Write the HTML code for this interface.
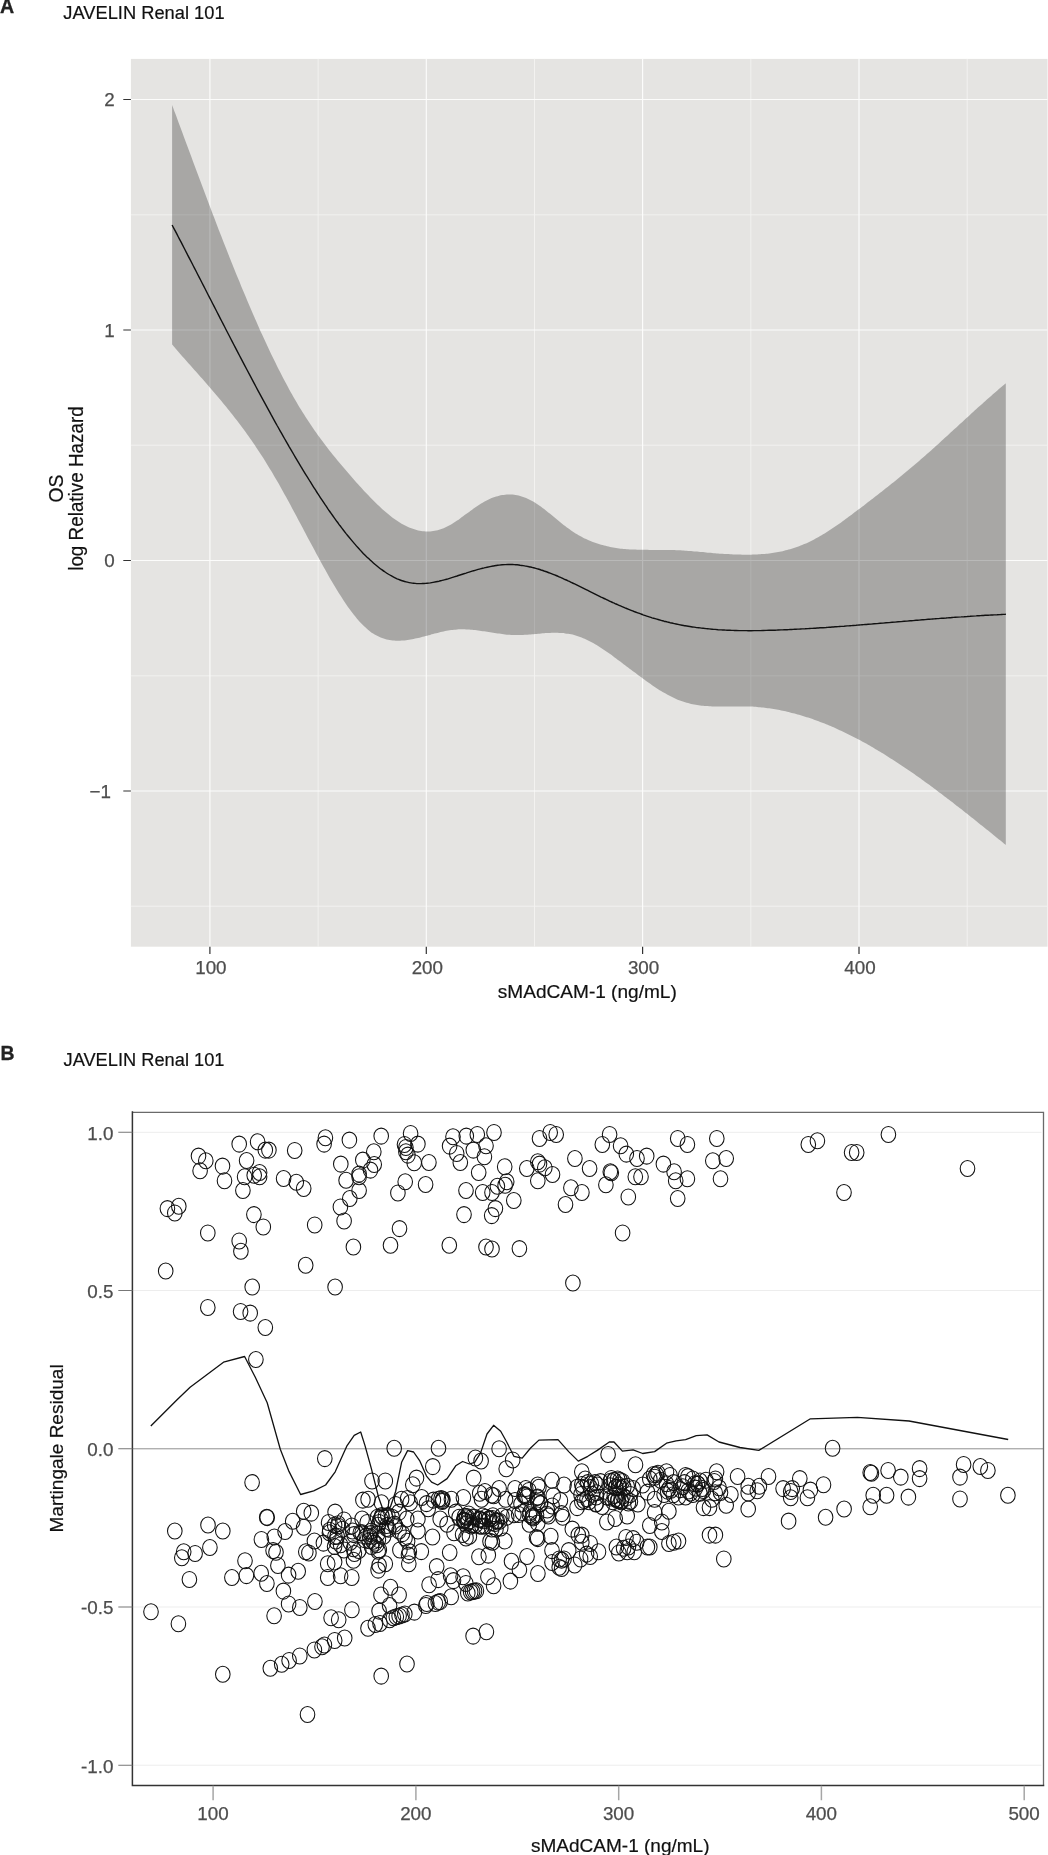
<!DOCTYPE html>
<html lang="en"><head><meta charset="utf-8"><title>JAVELIN Renal 101 - sMAdCAM-1</title>
<style>
html,body{margin:0;padding:0;background:#fff}
body{width:1048px;height:1855px;overflow:hidden}
svg{display:block;will-change:transform}
svg text{font-family:'Liberation Sans',Arial,Helvetica,sans-serif}
</style></head><body>
<svg width="1048" height="1855" viewBox="0 0 1048 1855">
<rect width="1048" height="1855" fill="#fff"/>
<rect x="130.9" y="58.9" width="916.6" height="887.8" fill="#e5e4e2"/>
<path d="M318.1,58.9V946.7M534.5,58.9V946.7M750.8,58.9V946.7M967.2,58.9V946.7M130.9,214.8H1047.5M130.9,445.2H1047.5M130.9,675.8H1047.5M130.9,906.2H1047.5" stroke="#f4f3f2" stroke-width="0.9" fill="none"/>
<path d="M209.9,58.9V946.7M426.3,58.9V946.7M642.6,58.9V946.7M859.0,58.9V946.7M130.9,99.5H1047.5M130.9,330.0H1047.5M130.9,560.5H1047.5M130.9,791.0H1047.5" stroke="#fcfcfb" stroke-width="1.15" fill="none"/>
<path d="M172.1,105.0C172.6,106.3 174.1,110.4 175.1,113.1C176.1,115.8 177.1,118.5 178.1,121.2C179.1,123.9 180.1,126.6 181.1,129.3C182.1,132.0 183.1,134.7 184.1,137.4C185.1,140.1 186.1,142.8 187.1,145.5C188.1,148.2 189.1,150.9 190.1,153.6C191.1,156.3 192.1,159.0 193.1,161.7C194.1,164.4 195.1,167.1 196.1,169.8C197.1,172.5 198.1,175.2 199.1,177.8C200.1,180.5 201.1,183.2 202.1,185.8C203.1,188.5 204.1,191.2 205.1,193.8C206.1,196.5 207.1,199.1 208.1,201.8C209.1,204.4 210.1,207.1 211.1,209.7C212.1,212.3 213.1,215.0 214.1,217.6C215.1,220.2 216.1,222.8 217.1,225.4C218.1,228.0 219.1,230.6 220.1,233.2C221.1,235.8 222.1,238.3 223.1,240.9C224.1,243.5 225.1,246.0 226.1,248.6C227.1,251.1 228.1,253.6 229.1,256.2C230.1,258.7 231.1,261.2 232.1,263.7C233.1,266.2 234.1,268.7 235.1,271.2C236.1,273.6 237.1,276.1 238.1,278.6C239.1,281.0 240.1,283.4 241.1,285.9C242.1,288.3 243.1,290.7 244.1,293.1C245.1,295.5 246.1,297.9 247.1,300.3C248.1,302.6 249.1,305.0 250.1,307.3C251.1,309.7 252.1,312.0 253.1,314.3C254.1,316.6 255.1,318.9 256.1,321.1C257.1,323.4 258.1,325.7 259.1,327.9C260.1,330.2 261.1,332.4 262.1,334.6C263.1,336.8 264.1,339.0 265.1,341.1C266.1,343.3 267.1,345.4 268.1,347.6C269.1,349.7 270.1,351.8 271.1,353.9C272.1,356.0 273.1,358.0 274.1,360.1C275.1,362.1 276.1,364.2 277.1,366.2C278.1,368.2 279.1,370.2 280.1,372.1C281.1,374.1 282.1,376.0 283.1,377.9C284.1,379.8 285.1,381.7 286.1,383.6C287.1,385.5 288.1,387.3 289.1,389.2C290.1,391.0 291.1,392.8 292.1,394.5C293.1,396.3 294.1,398.1 295.1,399.8C296.1,401.5 297.1,403.2 298.1,404.9C299.1,406.6 300.1,408.2 301.1,409.8C302.1,411.5 303.1,413.1 304.1,414.6C305.1,416.2 306.1,417.8 307.1,419.3C308.1,420.8 309.1,422.3 310.1,423.8C311.1,425.3 312.1,426.8 313.1,428.2C314.1,429.7 315.1,431.1 316.1,432.5C317.1,434.0 318.1,435.4 319.1,436.7C320.1,438.1 321.1,439.5 322.1,440.8C323.1,442.2 324.1,443.5 325.1,444.8C326.1,446.1 327.1,447.4 328.1,448.7C329.1,450.0 330.1,451.3 331.1,452.5C332.1,453.8 333.1,455.0 334.1,456.3C335.1,457.5 336.1,458.7 337.1,460.0C338.1,461.2 339.1,462.4 340.1,463.6C341.1,464.8 342.1,465.9 343.1,467.1C344.1,468.3 345.1,469.5 346.1,470.6C347.1,471.8 348.1,472.9 349.1,474.1C350.1,475.2 351.1,476.4 352.1,477.5C353.1,478.7 354.1,479.8 355.1,480.9C356.1,482.0 357.1,483.2 358.1,484.3C359.1,485.4 360.1,486.5 361.1,487.6C362.1,488.7 363.1,489.8 364.1,490.9C365.1,491.9 366.1,493.0 367.1,494.1C368.1,495.1 369.1,496.2 370.1,497.2C371.1,498.2 372.1,499.3 373.1,500.3C374.1,501.3 375.1,502.3 376.1,503.2C377.1,504.2 378.1,505.2 379.1,506.1C380.1,507.0 381.1,508.0 382.1,508.9C383.1,509.8 384.1,510.6 385.1,511.5C386.1,512.4 387.1,513.2 388.1,514.0C389.1,514.8 390.1,515.6 391.1,516.4C392.1,517.2 393.1,517.9 394.1,518.7C395.1,519.4 396.1,520.1 397.1,520.7C398.1,521.4 399.1,522.1 400.1,522.7C401.1,523.3 402.1,523.9 403.1,524.4C404.1,525.0 405.1,525.5 406.1,526.0C407.1,526.5 408.1,527.0 409.1,527.4C410.1,527.8 411.1,528.2 412.1,528.6C413.1,529.0 414.1,529.3 415.1,529.6C416.1,529.9 417.1,530.1 418.1,530.4C419.1,530.6 420.1,530.8 421.1,531.0C422.1,531.1 423.1,531.2 424.1,531.3C425.1,531.4 426.1,531.5 427.1,531.5C428.1,531.5 429.1,531.5 430.1,531.4C431.1,531.3 432.1,531.2 433.1,531.1C434.1,531.0 435.1,530.8 436.1,530.6C437.1,530.4 438.1,530.1 439.1,529.8C440.1,529.5 441.1,529.2 442.1,528.8C443.1,528.4 444.1,528.0 445.1,527.5C446.1,527.1 447.1,526.6 448.1,526.0C449.1,525.5 450.1,524.9 451.1,524.4C452.1,523.8 453.1,523.1 454.1,522.5C455.1,521.9 456.1,521.2 457.1,520.5C458.1,519.9 459.1,519.2 460.1,518.4C461.1,517.7 462.1,517.0 463.1,516.3C464.1,515.6 465.1,514.8 466.1,514.1C467.1,513.4 468.1,512.6 469.1,511.9C470.1,511.2 471.1,510.4 472.1,509.7C473.1,509.0 474.1,508.3 475.1,507.6C476.1,506.9 477.1,506.2 478.1,505.5C479.1,504.9 480.1,504.2 481.1,503.6C482.1,503.0 483.1,502.4 484.1,501.8C485.1,501.2 486.1,500.7 487.1,500.2C488.1,499.7 489.1,499.2 490.1,498.8C491.1,498.3 492.1,497.9 493.1,497.5C494.1,497.2 495.1,496.8 496.1,496.5C497.1,496.2 498.1,496.0 499.1,495.7C500.1,495.5 501.1,495.3 502.1,495.1C503.1,494.9 504.1,494.8 505.1,494.7C506.1,494.6 507.1,494.6 508.1,494.5C509.1,494.5 510.1,494.5 511.1,494.6C512.1,494.6 513.1,494.7 514.1,494.8C515.1,494.9 516.1,495.1 517.1,495.3C518.1,495.5 519.1,495.7 520.1,495.9C521.1,496.2 522.1,496.5 523.1,496.9C524.1,497.2 525.1,497.6 526.1,498.0C527.1,498.4 528.1,498.9 529.1,499.4C530.1,499.9 531.1,500.4 532.1,501.0C533.1,501.5 534.1,502.1 535.1,502.8C536.1,503.4 537.1,504.0 538.1,504.7C539.1,505.4 540.1,506.1 541.1,506.8C542.1,507.6 543.1,508.3 544.1,509.1C545.1,509.9 546.1,510.6 547.1,511.4C548.1,512.2 549.1,513.0 550.1,513.8C551.1,514.7 552.1,515.5 553.1,516.3C554.1,517.1 555.1,518.0 556.1,518.8C557.1,519.6 558.1,520.4 559.1,521.2C560.1,522.1 561.1,522.9 562.1,523.7C563.1,524.5 564.1,525.3 565.1,526.0C566.1,526.8 567.1,527.6 568.1,528.3C569.1,529.0 570.1,529.8 571.1,530.5C572.1,531.2 573.1,531.8 574.1,532.5C575.1,533.1 576.1,533.7 577.1,534.3C578.1,534.9 579.1,535.5 580.1,536.1C581.1,536.6 582.1,537.2 583.1,537.7C584.1,538.2 585.1,538.7 586.1,539.1C587.1,539.6 588.1,540.1 589.1,540.5C590.1,540.9 591.1,541.3 592.1,541.7C593.1,542.1 594.1,542.5 595.1,542.8C596.1,543.2 597.1,543.5 598.1,543.8C599.1,544.2 600.1,544.5 601.1,544.8C602.1,545.0 603.1,545.3 604.1,545.6C605.1,545.8 606.1,546.1 607.1,546.3C608.1,546.5 609.1,546.7 610.1,546.9C611.1,547.1 612.1,547.3 613.1,547.5C614.1,547.6 615.1,547.8 616.1,548.0C617.1,548.1 618.1,548.2 619.1,548.4C620.1,548.5 621.1,548.6 622.1,548.7C623.1,548.8 624.1,548.9 625.1,549.0C626.1,549.1 627.1,549.2 628.1,549.2C629.1,549.3 630.1,549.4 631.1,549.4C632.1,549.5 633.1,549.5 634.1,549.6C635.1,549.6 636.1,549.6 637.1,549.7C638.1,549.7 639.1,549.7 640.1,549.8C641.1,549.8 642.1,549.8 643.1,549.8C644.1,549.8 645.1,549.8 646.1,549.8C647.1,549.8 648.1,549.9 649.1,549.9C650.1,549.9 651.1,549.9 652.1,549.9C653.1,549.9 654.1,549.9 655.1,549.9C656.1,549.9 657.1,549.9 658.1,549.9C659.1,549.9 660.1,549.9 661.1,549.9C662.1,549.9 663.1,549.9 664.1,549.9C665.1,549.9 666.1,549.9 667.1,549.9C668.1,549.9 669.1,550.0 670.1,550.0C671.1,550.0 672.1,550.0 673.1,550.1C674.1,550.1 675.1,550.1 676.1,550.2C677.1,550.2 678.1,550.3 679.1,550.3C680.1,550.4 681.1,550.4 682.1,550.5C683.1,550.6 684.1,550.6 685.1,550.7C686.1,550.8 687.1,550.8 688.1,550.9C689.1,551.0 690.1,551.1 691.1,551.1C692.1,551.2 693.1,551.3 694.1,551.4C695.1,551.5 696.1,551.5 697.1,551.6C698.1,551.7 699.1,551.8 700.1,551.9C701.1,552.0 702.1,552.1 703.1,552.1C704.1,552.2 705.1,552.3 706.1,552.4C707.1,552.5 708.1,552.6 709.1,552.7C710.1,552.8 711.1,552.8 712.1,552.9C713.1,553.0 714.1,553.1 715.1,553.2C716.1,553.3 717.1,553.4 718.1,553.4C719.1,553.5 720.1,553.6 721.1,553.7C722.1,553.7 723.1,553.8 724.1,553.9C725.1,553.9 726.1,554.0 727.1,554.1C728.1,554.1 729.1,554.2 730.1,554.3C731.1,554.3 732.1,554.4 733.1,554.4C734.1,554.5 735.1,554.5 736.1,554.5C737.1,554.6 738.1,554.6 739.1,554.6C740.1,554.7 741.1,554.7 742.1,554.7C743.1,554.7 744.1,554.7 745.1,554.7C746.1,554.7 747.1,554.7 748.1,554.7C749.1,554.7 750.1,554.7 751.1,554.7C752.1,554.7 753.1,554.6 754.1,554.6C755.1,554.6 756.1,554.5 757.1,554.5C758.1,554.4 759.1,554.4 760.1,554.3C761.1,554.2 762.1,554.1 763.1,554.1C764.1,554.0 765.1,553.9 766.1,553.8C767.1,553.7 768.1,553.5 769.1,553.4C770.1,553.3 771.1,553.2 772.1,553.0C773.1,552.9 774.1,552.7 775.1,552.5C776.1,552.4 777.1,552.2 778.1,552.0C779.1,551.8 780.1,551.6 781.1,551.4C782.1,551.2 783.1,551.0 784.1,550.7C785.1,550.5 786.1,550.2 787.1,550.0C788.1,549.7 789.1,549.4 790.1,549.2C791.1,548.9 792.1,548.6 793.1,548.2C794.1,547.9 795.1,547.6 796.1,547.3C797.1,546.9 798.1,546.6 799.1,546.2C800.1,545.8 801.1,545.4 802.1,545.0C803.1,544.6 804.1,544.2 805.1,543.8C806.1,543.3 807.1,542.9 808.1,542.4C809.1,541.9 810.1,541.5 811.1,541.0C812.1,540.5 813.1,540.0 814.1,539.4C815.1,538.9 816.1,538.4 817.1,537.8C818.1,537.3 819.1,536.7 820.1,536.1C821.1,535.5 822.1,534.9 823.1,534.3C824.1,533.7 825.1,533.1 826.1,532.5C827.1,531.8 828.1,531.2 829.1,530.6C830.1,529.9 831.1,529.3 832.1,528.6C833.1,527.9 834.1,527.2 835.1,526.6C836.1,525.9 837.1,525.2 838.1,524.5C839.1,523.8 840.1,523.1 841.1,522.4C842.1,521.6 843.1,520.9 844.1,520.2C845.1,519.5 846.1,518.7 847.1,518.0C848.1,517.3 849.1,516.5 850.1,515.8C851.1,515.0 852.1,514.3 853.1,513.5C854.1,512.8 855.1,512.0 856.1,511.3C857.1,510.5 858.1,509.7 859.1,509.0C860.1,508.2 861.1,507.5 862.1,506.7C863.1,505.9 864.1,505.2 865.1,504.4C866.1,503.6 867.1,502.9 868.1,502.1C869.1,501.3 870.1,500.6 871.1,499.8C872.1,499.0 873.1,498.3 874.1,497.5C875.1,496.7 876.1,495.9 877.1,495.2C878.1,494.4 879.1,493.6 880.1,492.8C881.1,492.1 882.1,491.3 883.1,490.5C884.1,489.7 885.1,488.9 886.1,488.1C887.1,487.3 888.1,486.5 889.1,485.7C890.1,484.9 891.1,484.1 892.1,483.3C893.1,482.5 894.1,481.7 895.1,480.9C896.1,480.1 897.1,479.3 898.1,478.5C899.1,477.7 900.1,476.9 901.1,476.1C902.1,475.2 903.1,474.4 904.1,473.6C905.1,472.8 906.1,471.9 907.1,471.1C908.1,470.3 909.1,469.4 910.1,468.6C911.1,467.8 912.1,466.9 913.1,466.1C914.1,465.2 915.1,464.4 916.1,463.5C917.1,462.7 918.1,461.8 919.1,460.9C920.1,460.1 921.1,459.2 922.1,458.3C923.1,457.5 924.1,456.6 925.1,455.7C926.1,454.8 927.1,453.9 928.1,453.0C929.1,452.2 930.1,451.3 931.1,450.4C932.1,449.5 933.1,448.6 934.1,447.7C935.1,446.8 936.1,445.9 937.1,445.0C938.1,444.1 939.1,443.2 940.1,442.2C941.1,441.3 942.1,440.4 943.1,439.5C944.1,438.6 945.1,437.7 946.1,436.8C947.1,435.9 948.1,434.9 949.1,434.0C950.1,433.1 951.1,432.2 952.1,431.3C953.1,430.3 954.1,429.4 955.1,428.5C956.1,427.6 957.1,426.7 958.1,425.7C959.1,424.8 960.1,423.9 961.1,423.0C962.1,422.1 963.1,421.1 964.1,420.2C965.1,419.3 966.1,418.4 967.1,417.5C968.1,416.6 969.1,415.6 970.1,414.7C971.1,413.8 972.1,412.9 973.1,412.0C974.1,411.1 975.1,410.2 976.1,409.3C977.1,408.4 978.1,407.5 979.1,406.6C980.1,405.7 981.1,404.8 982.1,403.9C983.1,403.0 984.1,402.1 985.1,401.2C986.1,400.3 987.1,399.4 988.1,398.5C989.1,397.6 990.1,396.8 991.1,395.9C992.1,395.0 993.1,394.1 994.1,393.3C995.1,392.4 996.1,391.5 997.1,390.7C998.1,389.8 999.1,389.0 1000.1,388.1C1001.1,387.3 1002.2,386.4 1003.1,385.6C1004.0,384.8 1005.3,383.7 1005.8,383.3L1005.8,845.0C1005.3,844.6 1004.0,843.6 1003.1,842.8C1002.2,842.0 1001.1,841.2 1000.1,840.3C999.1,839.5 998.1,838.7 997.1,837.9C996.1,837.1 995.1,836.3 994.1,835.5C993.1,834.7 992.1,833.9 991.1,833.1C990.1,832.2 989.1,831.4 988.1,830.6C987.1,829.8 986.1,829.0 985.1,828.2C984.1,827.4 983.1,826.6 982.1,825.8C981.1,825.0 980.1,824.2 979.1,823.4C978.1,822.6 977.1,821.8 976.1,821.0C975.1,820.2 974.1,819.4 973.1,818.6C972.1,817.8 971.1,817.0 970.1,816.2C969.1,815.4 968.1,814.6 967.1,813.8C966.1,813.0 965.1,812.3 964.1,811.5C963.1,810.7 962.1,809.9 961.1,809.1C960.1,808.3 959.1,807.6 958.1,806.8C957.1,806.0 956.1,805.2 955.1,804.4C954.1,803.7 953.1,802.9 952.1,802.1C951.1,801.3 950.1,800.6 949.1,799.8C948.1,799.0 947.1,798.3 946.1,797.5C945.1,796.7 944.1,796.0 943.1,795.2C942.1,794.5 941.1,793.7 940.1,793.0C939.1,792.2 938.1,791.5 937.1,790.7C936.1,790.0 935.1,789.2 934.1,788.5C933.1,787.7 932.1,787.0 931.1,786.3C930.1,785.5 929.1,784.8 928.1,784.1C927.1,783.3 926.1,782.6 925.1,781.9C924.1,781.1 923.1,780.4 922.1,779.7C921.1,779.0 920.1,778.3 919.1,777.6C918.1,776.9 917.1,776.1 916.1,775.4C915.1,774.7 914.1,774.0 913.1,773.3C912.1,772.6 911.1,772.0 910.1,771.3C909.1,770.6 908.1,769.9 907.1,769.2C906.1,768.5 905.1,767.8 904.1,767.2C903.1,766.5 902.1,765.8 901.1,765.2C900.1,764.5 899.1,763.8 898.1,763.2C897.1,762.5 896.1,761.9 895.1,761.2C894.1,760.6 893.1,759.9 892.1,759.3C891.1,758.6 890.1,758.0 889.1,757.4C888.1,756.7 887.1,756.1 886.1,755.5C885.1,754.9 884.1,754.2 883.1,753.6C882.1,753.0 881.1,752.4 880.1,751.8C879.1,751.2 878.1,750.6 877.1,750.0C876.1,749.4 875.1,748.8 874.1,748.2C873.1,747.6 872.1,747.1 871.1,746.5C870.1,745.9 869.1,745.3 868.1,744.8C867.1,744.2 866.1,743.7 865.1,743.1C864.1,742.5 863.1,742.0 862.1,741.5C861.1,740.9 860.1,740.4 859.1,739.8C858.1,739.3 857.1,738.8 856.1,738.3C855.1,737.7 854.1,737.2 853.1,736.7C852.1,736.2 851.1,735.7 850.1,735.2C849.1,734.7 848.1,734.2 847.1,733.7C846.1,733.2 845.1,732.7 844.1,732.2C843.1,731.8 842.1,731.3 841.1,730.8C840.1,730.4 839.1,729.9 838.1,729.4C837.1,729.0 836.1,728.5 835.1,728.1C834.1,727.6 833.1,727.2 832.1,726.8C831.1,726.3 830.1,725.9 829.1,725.5C828.1,725.1 827.1,724.7 826.1,724.3C825.1,723.9 824.1,723.5 823.1,723.1C822.1,722.7 821.1,722.3 820.1,721.9C819.1,721.5 818.1,721.1 817.1,720.8C816.1,720.4 815.1,720.0 814.1,719.7C813.1,719.3 812.1,719.0 811.1,718.6C810.1,718.3 809.1,718.0 808.1,717.6C807.1,717.3 806.1,717.0 805.1,716.7C804.1,716.3 803.1,716.0 802.1,715.7C801.1,715.4 800.1,715.1 799.1,714.8C798.1,714.5 797.1,714.3 796.1,714.0C795.1,713.7 794.1,713.4 793.1,713.2C792.1,712.9 791.1,712.7 790.1,712.4C789.1,712.2 788.1,711.9 787.1,711.7C786.1,711.5 785.1,711.2 784.1,711.0C783.1,710.8 782.1,710.6 781.1,710.4C780.1,710.2 779.1,710.0 778.1,709.8C777.1,709.6 776.1,709.4 775.1,709.3C774.1,709.1 773.1,708.9 772.1,708.8C771.1,708.6 770.1,708.5 769.1,708.3C768.1,708.2 767.1,708.0 766.1,707.9C765.1,707.8 764.1,707.7 763.1,707.6C762.1,707.4 761.1,707.3 760.1,707.2C759.1,707.2 758.1,707.1 757.1,707.0C756.1,706.9 755.1,706.8 754.1,706.8C753.1,706.7 752.1,706.6 751.1,706.6C750.1,706.6 749.1,706.5 748.1,706.5C747.1,706.5 746.1,706.4 745.1,706.4C744.1,706.4 743.1,706.4 742.1,706.4C741.1,706.4 740.1,706.4 739.1,706.4C738.1,706.4 737.1,706.4 736.1,706.4C735.1,706.4 734.1,706.4 733.1,706.4C732.1,706.5 731.1,706.5 730.1,706.5C729.1,706.5 728.1,706.5 727.1,706.5C726.1,706.5 725.1,706.6 724.1,706.6C723.1,706.6 722.1,706.6 721.1,706.6C720.1,706.6 719.1,706.6 718.1,706.6C717.1,706.5 716.1,706.5 715.1,706.5C714.1,706.5 713.1,706.5 712.1,706.4C711.1,706.4 710.1,706.3 709.1,706.3C708.1,706.2 707.1,706.1 706.1,706.1C705.1,706.0 704.1,705.9 703.1,705.8C702.1,705.7 701.1,705.6 700.1,705.4C699.1,705.3 698.1,705.2 697.1,705.0C696.1,704.9 695.1,704.7 694.1,704.5C693.1,704.3 692.1,704.1 691.1,703.9C690.1,703.6 689.1,703.4 688.1,703.1C687.1,702.9 686.1,702.6 685.1,702.3C684.1,702.0 683.1,701.6 682.1,701.3C681.1,700.9 680.1,700.6 679.1,700.2C678.1,699.8 677.1,699.4 676.1,698.9C675.1,698.5 674.1,698.0 673.1,697.6C672.1,697.1 671.1,696.6 670.1,696.1C669.1,695.6 668.1,695.0 667.1,694.5C666.1,693.9 665.1,693.4 664.1,692.8C663.1,692.2 662.1,691.6 661.1,691.0C660.1,690.4 659.1,689.8 658.1,689.2C657.1,688.5 656.1,687.9 655.1,687.2C654.1,686.5 653.1,685.9 652.1,685.2C651.1,684.5 650.1,683.8 649.1,683.1C648.1,682.4 647.1,681.7 646.1,681.0C645.1,680.3 644.1,679.5 643.1,678.8C642.1,678.1 641.1,677.3 640.1,676.6C639.1,675.8 638.1,675.1 637.1,674.3C636.1,673.6 635.1,672.8 634.1,672.1C633.1,671.3 632.1,670.6 631.1,669.8C630.1,669.0 629.1,668.3 628.1,667.5C627.1,666.7 626.1,666.0 625.1,665.2C624.1,664.5 623.1,663.7 622.1,662.9C621.1,662.2 620.1,661.4 619.1,660.7C618.1,659.9 617.1,659.2 616.1,658.4C615.1,657.7 614.1,657.0 613.1,656.2C612.1,655.5 611.1,654.8 610.1,654.1C609.1,653.4 608.1,652.7 607.1,652.0C606.1,651.3 605.1,650.6 604.1,649.9C603.1,649.3 602.1,648.6 601.1,648.0C600.1,647.3 599.1,646.7 598.1,646.1C597.1,645.4 596.1,644.8 595.1,644.3C594.1,643.7 593.1,643.1 592.1,642.6C591.1,642.0 590.1,641.5 589.1,641.0C588.1,640.5 587.1,640.0 586.1,639.5C585.1,639.0 584.1,638.6 583.1,638.2C582.1,637.7 581.1,637.3 580.1,637.0C579.1,636.6 578.1,636.2 577.1,635.9C576.1,635.6 575.1,635.3 574.1,635.0C573.1,634.8 572.1,634.5 571.1,634.3C570.1,634.1 569.1,633.9 568.1,633.8C567.1,633.6 566.1,633.5 565.1,633.4C564.1,633.2 563.1,633.1 562.1,633.1C561.1,633.0 560.1,632.9 559.1,632.9C558.1,632.9 557.1,632.8 556.1,632.8C555.1,632.8 554.1,632.8 553.1,632.8C552.1,632.9 551.1,632.9 550.1,632.9C549.1,633.0 548.1,633.0 547.1,633.1C546.1,633.1 545.1,633.2 544.1,633.3C543.1,633.4 542.1,633.4 541.1,633.5C540.1,633.6 539.1,633.7 538.1,633.8C537.1,633.9 536.1,634.0 535.1,634.0C534.1,634.1 533.1,634.2 532.1,634.3C531.1,634.4 530.1,634.5 529.1,634.5C528.1,634.6 527.1,634.7 526.1,634.8C525.1,634.8 524.1,634.9 523.1,634.9C522.1,635.0 521.1,635.0 520.1,635.0C519.1,635.1 518.1,635.1 517.1,635.1C516.1,635.1 515.1,635.1 514.1,635.0C513.1,635.0 512.1,635.0 511.1,634.9C510.1,634.8 509.1,634.8 508.1,634.7C507.1,634.6 506.1,634.5 505.1,634.4C504.1,634.3 503.1,634.2 502.1,634.0C501.1,633.9 500.1,633.8 499.1,633.6C498.1,633.5 497.1,633.4 496.1,633.2C495.1,633.1 494.1,632.9 493.1,632.7C492.1,632.6 491.1,632.4 490.1,632.3C489.1,632.1 488.1,631.9 487.1,631.8C486.1,631.6 485.1,631.5 484.1,631.3C483.1,631.2 482.1,631.0 481.1,630.9C480.1,630.7 479.1,630.6 478.1,630.5C477.1,630.3 476.1,630.2 475.1,630.1C474.1,630.0 473.1,629.9 472.1,629.8C471.1,629.7 470.1,629.6 469.1,629.5C468.1,629.5 467.1,629.4 466.1,629.4C465.1,629.3 464.1,629.3 463.1,629.3C462.1,629.3 461.1,629.3 460.1,629.3C459.1,629.3 458.1,629.4 457.1,629.4C456.1,629.5 455.1,629.6 454.1,629.7C453.1,629.8 452.1,629.9 451.1,630.1C450.1,630.2 449.1,630.4 448.1,630.6C447.1,630.8 446.1,630.9 445.1,631.1C444.1,631.4 443.1,631.6 442.1,631.8C441.1,632.0 440.1,632.3 439.1,632.5C438.1,632.8 437.1,633.0 436.1,633.3C435.1,633.5 434.1,633.8 433.1,634.1C432.1,634.3 431.1,634.6 430.1,634.9C429.1,635.1 428.1,635.4 427.1,635.7C426.1,635.9 425.1,636.2 424.1,636.5C423.1,636.7 422.1,637.0 421.1,637.2C420.1,637.5 419.1,637.7 418.1,638.0C417.1,638.2 416.1,638.4 415.1,638.6C414.1,638.9 413.1,639.1 412.1,639.3C411.1,639.4 410.1,639.6 409.1,639.8C408.1,639.9 407.1,640.1 406.1,640.2C405.1,640.3 404.1,640.4 403.1,640.5C402.1,640.6 401.1,640.6 400.1,640.7C399.1,640.7 398.1,640.7 397.1,640.7C396.1,640.7 395.1,640.6 394.1,640.5C393.1,640.5 392.1,640.4 391.1,640.2C390.1,640.1 389.1,639.9 388.1,639.7C387.1,639.5 386.1,639.3 385.1,639.0C384.1,638.7 383.1,638.4 382.1,638.0C381.1,637.7 380.1,637.3 379.1,636.8C378.1,636.4 377.1,635.9 376.1,635.3C375.1,634.8 374.1,634.2 373.1,633.5C372.1,632.9 371.1,632.2 370.1,631.4C369.1,630.7 368.1,629.9 367.1,629.0C366.1,628.1 365.1,627.2 364.1,626.3C363.1,625.3 362.1,624.3 361.1,623.2C360.1,622.2 359.1,621.1 358.1,619.9C357.1,618.8 356.1,617.6 355.1,616.3C354.1,615.1 353.1,613.8 352.1,612.5C351.1,611.2 350.1,609.8 349.1,608.5C348.1,607.1 347.1,605.6 346.1,604.2C345.1,602.7 344.1,601.2 343.1,599.7C342.1,598.2 341.1,596.6 340.1,595.1C339.1,593.5 338.1,591.9 337.1,590.2C336.1,588.6 335.1,586.9 334.1,585.3C333.1,583.6 332.1,581.9 331.1,580.2C330.1,578.4 329.1,576.7 328.1,574.9C327.1,573.2 326.1,571.4 325.1,569.6C324.1,567.8 323.1,566.0 322.1,564.2C321.1,562.4 320.1,560.6 319.1,558.7C318.1,556.9 317.1,555.1 316.1,553.2C315.1,551.4 314.1,549.5 313.1,547.6C312.1,545.8 311.1,543.9 310.1,542.0C309.1,540.1 308.1,538.3 307.1,536.4C306.1,534.5 305.1,532.6 304.1,530.7C303.1,528.8 302.1,526.9 301.1,525.1C300.1,523.2 299.1,521.3 298.1,519.4C297.1,517.5 296.1,515.7 295.1,513.8C294.1,511.9 293.1,510.1 292.1,508.2C291.1,506.3 290.1,504.5 289.1,502.6C288.1,500.8 287.1,499.0 286.1,497.1C285.1,495.3 284.1,493.5 283.1,491.7C282.1,489.9 281.1,488.1 280.1,486.3C279.1,484.6 278.1,482.8 277.1,481.1C276.1,479.3 275.1,477.6 274.1,475.9C273.1,474.2 272.1,472.5 271.1,470.8C270.1,469.1 269.1,467.5 268.1,465.9C267.1,464.2 266.1,462.6 265.1,461.0C264.1,459.4 263.1,457.9 262.1,456.3C261.1,454.7 260.1,453.2 259.1,451.7C258.1,450.2 257.1,448.7 256.1,447.2C255.1,445.7 254.1,444.2 253.1,442.8C252.1,441.3 251.1,439.9 250.1,438.5C249.1,437.0 248.1,435.6 247.1,434.2C246.1,432.8 245.1,431.5 244.1,430.1C243.1,428.7 242.1,427.4 241.1,426.0C240.1,424.7 239.1,423.4 238.1,422.1C237.1,420.7 236.1,419.4 235.1,418.2C234.1,416.9 233.1,415.6 232.1,414.3C231.1,413.0 230.1,411.8 229.1,410.5C228.1,409.3 227.1,408.1 226.1,406.8C225.1,405.6 224.1,404.4 223.1,403.2C222.1,401.9 221.1,400.7 220.1,399.5C219.1,398.3 218.1,397.2 217.1,396.0C216.1,394.8 215.1,393.6 214.1,392.4C213.1,391.3 212.1,390.1 211.1,388.9C210.1,387.8 209.1,386.6 208.1,385.5C207.1,384.3 206.1,383.2 205.1,382.0C204.1,380.9 203.1,379.8 202.1,378.6C201.1,377.5 200.1,376.4 199.1,375.2C198.1,374.1 197.1,373.0 196.1,371.8C195.1,370.7 194.1,369.6 193.1,368.4C192.1,367.3 191.1,366.2 190.1,365.1C189.1,363.9 188.1,362.8 187.1,361.7C186.1,360.6 185.1,359.4 184.1,358.3C183.1,357.2 182.1,356.0 181.1,354.9C180.1,353.8 179.1,352.6 178.1,351.5C177.1,350.3 176.1,349.2 175.1,348.0C174.1,346.9 172.6,345.1 172.1,344.6Z" fill="#000" fill-opacity="0.265"/>
<path d="M172.1,225.0C172.6,225.9 174.1,228.8 175.1,230.7C176.1,232.6 177.1,234.5 178.1,236.5C179.1,238.4 180.1,240.3 181.1,242.2C182.1,244.2 183.1,246.1 184.1,248.0C185.1,250.0 186.1,251.9 187.1,253.8C188.1,255.8 189.1,257.7 190.1,259.6C191.1,261.6 192.1,263.5 193.1,265.5C194.1,267.4 195.1,269.4 196.1,271.3C197.1,273.2 198.1,275.2 199.1,277.1C200.1,279.1 201.1,281.0 202.1,283.0C203.1,284.9 204.1,286.9 205.1,288.8C206.1,290.8 207.1,292.7 208.1,294.7C209.1,296.6 210.1,298.6 211.1,300.5C212.1,302.5 213.1,304.4 214.1,306.4C215.1,308.3 216.1,310.3 217.1,312.2C218.1,314.2 219.1,316.1 220.1,318.1C221.1,320.0 222.1,322.0 223.1,323.9C224.1,325.8 225.1,327.8 226.1,329.7C227.1,331.7 228.1,333.6 229.1,335.5C230.1,337.5 231.1,339.4 232.1,341.3C233.1,343.2 234.1,345.2 235.1,347.1C236.1,349.0 237.1,350.9 238.1,352.9C239.1,354.8 240.1,356.7 241.1,358.6C242.1,360.5 243.1,362.4 244.1,364.3C245.1,366.2 246.1,368.1 247.1,370.0C248.1,371.9 249.1,373.8 250.1,375.7C251.1,377.6 252.1,379.5 253.1,381.4C254.1,383.3 255.1,385.1 256.1,387.0C257.1,388.9 258.1,390.7 259.1,392.6C260.1,394.5 261.1,396.3 262.1,398.2C263.1,400.0 264.1,401.9 265.1,403.7C266.1,405.5 267.1,407.4 268.1,409.2C269.1,411.0 270.1,412.8 271.1,414.7C272.1,416.5 273.1,418.3 274.1,420.1C275.1,421.9 276.1,423.7 277.1,425.5C278.1,427.2 279.1,429.0 280.1,430.8C281.1,432.6 282.1,434.3 283.1,436.1C284.1,437.9 285.1,439.6 286.1,441.4C287.1,443.1 288.1,444.8 289.1,446.6C290.1,448.3 291.1,450.0 292.1,451.7C293.1,453.4 294.1,455.1 295.1,456.8C296.1,458.5 297.1,460.2 298.1,461.9C299.1,463.6 300.1,465.2 301.1,466.9C302.1,468.5 303.1,470.2 304.1,471.8C305.1,473.5 306.1,475.1 307.1,476.7C308.1,478.3 309.1,479.9 310.1,481.5C311.1,483.1 312.1,484.7 313.1,486.3C314.1,487.9 315.1,489.4 316.1,491.0C317.1,492.5 318.1,494.1 319.1,495.6C320.1,497.2 321.1,498.7 322.1,500.2C323.1,501.7 324.1,503.2 325.1,504.7C326.1,506.1 327.1,507.6 328.1,509.1C329.1,510.5 330.1,512.0 331.1,513.4C332.1,514.8 333.1,516.2 334.1,517.6C335.1,519.0 336.1,520.4 337.1,521.8C338.1,523.1 339.1,524.5 340.1,525.8C341.1,527.1 342.1,528.5 343.1,529.7C344.1,531.0 345.1,532.3 346.1,533.6C347.1,534.8 348.1,536.1 349.1,537.3C350.1,538.5 351.1,539.7 352.1,540.9C353.1,542.1 354.1,543.3 355.1,544.4C356.1,545.6 357.1,546.7 358.1,547.8C359.1,548.9 360.1,550.0 361.1,551.1C362.1,552.1 363.1,553.2 364.1,554.2C365.1,555.2 366.1,556.2 367.1,557.2C368.1,558.1 369.1,559.1 370.1,560.0C371.1,560.9 372.1,561.8 373.1,562.7C374.1,563.6 375.1,564.5 376.1,565.3C377.1,566.1 378.1,566.9 379.1,567.7C380.1,568.5 381.1,569.2 382.1,569.9C383.1,570.7 384.1,571.4 385.1,572.0C386.1,572.7 387.1,573.4 388.1,574.0C389.1,574.6 390.1,575.2 391.1,575.7C392.1,576.3 393.1,576.8 394.1,577.3C395.1,577.8 396.1,578.3 397.1,578.8C398.1,579.2 399.1,579.6 400.1,580.0C401.1,580.4 402.1,580.7 403.1,581.0C404.1,581.4 405.1,581.7 406.1,581.9C407.1,582.2 408.1,582.4 409.1,582.6C410.1,582.8 411.1,583.0 412.1,583.1C413.1,583.2 414.1,583.3 415.1,583.4C416.1,583.5 417.1,583.6 418.1,583.6C419.1,583.6 420.1,583.6 421.1,583.6C422.1,583.6 423.1,583.5 424.1,583.5C425.1,583.4 426.1,583.3 427.1,583.2C428.1,583.1 429.1,583.0 430.1,582.9C431.1,582.7 432.1,582.6 433.1,582.4C434.1,582.2 435.1,582.0 436.1,581.8C437.1,581.6 438.1,581.4 439.1,581.2C440.1,580.9 441.1,580.7 442.1,580.4C443.1,580.2 444.1,579.9 445.1,579.6C446.1,579.3 447.1,579.1 448.1,578.8C449.1,578.5 450.1,578.2 451.1,577.9C452.1,577.6 453.1,577.2 454.1,576.9C455.1,576.6 456.1,576.3 457.1,576.0C458.1,575.6 459.1,575.3 460.1,575.0C461.1,574.7 462.1,574.3 463.1,574.0C464.1,573.7 465.1,573.4 466.1,573.1C467.1,572.7 468.1,572.4 469.1,572.1C470.1,571.8 471.1,571.5 472.1,571.2C473.1,570.9 474.1,570.6 475.1,570.3C476.1,570.0 477.1,569.7 478.1,569.4C479.1,569.2 480.1,568.9 481.1,568.6C482.1,568.4 483.1,568.1 484.1,567.9C485.1,567.6 486.1,567.4 487.1,567.2C488.1,567.0 489.1,566.8 490.1,566.6C491.1,566.4 492.1,566.2 493.1,566.0C494.1,565.8 495.1,565.7 496.1,565.5C497.1,565.4 498.1,565.2 499.1,565.1C500.1,565.0 501.1,564.9 502.1,564.8C503.1,564.7 504.1,564.6 505.1,564.6C506.1,564.5 507.1,564.5 508.1,564.5C509.1,564.5 510.1,564.5 511.1,564.5C512.1,564.5 513.1,564.6 514.1,564.6C515.1,564.7 516.1,564.8 517.1,564.8C518.1,564.9 519.1,565.0 520.1,565.2C521.1,565.3 522.1,565.4 523.1,565.6C524.1,565.8 525.1,565.9 526.1,566.1C527.1,566.3 528.1,566.5 529.1,566.7C530.1,566.9 531.1,567.2 532.1,567.4C533.1,567.7 534.1,567.9 535.1,568.2C536.1,568.5 537.1,568.7 538.1,569.0C539.1,569.3 540.1,569.6 541.1,570.0C542.1,570.3 543.1,570.6 544.1,571.0C545.1,571.3 546.1,571.7 547.1,572.0C548.1,572.4 549.1,572.8 550.1,573.1C551.1,573.5 552.1,573.9 553.1,574.3C554.1,574.7 555.1,575.1 556.1,575.5C557.1,576.0 558.1,576.4 559.1,576.8C560.1,577.2 561.1,577.7 562.1,578.1C563.1,578.6 564.1,579.0 565.1,579.5C566.1,579.9 567.1,580.4 568.1,580.9C569.1,581.3 570.1,581.8 571.1,582.3C572.1,582.8 573.1,583.2 574.1,583.7C575.1,584.2 576.1,584.7 577.1,585.2C578.1,585.7 579.1,586.2 580.1,586.7C581.1,587.2 582.1,587.7 583.1,588.2C584.1,588.7 585.1,589.2 586.1,589.7C587.1,590.2 588.1,590.7 589.1,591.1C590.1,591.6 591.1,592.1 592.1,592.6C593.1,593.1 594.1,593.6 595.1,594.1C596.1,594.6 597.1,595.1 598.1,595.6C599.1,596.1 600.1,596.6 601.1,597.1C602.1,597.5 603.1,598.0 604.1,598.5C605.1,599.0 606.1,599.4 607.1,599.9C608.1,600.4 609.1,600.8 610.1,601.3C611.1,601.8 612.1,602.2 613.1,602.7C614.1,603.1 615.1,603.6 616.1,604.0C617.1,604.4 618.1,604.9 619.1,605.3C620.1,605.7 621.1,606.2 622.1,606.6C623.1,607.0 624.1,607.4 625.1,607.9C626.1,608.3 627.1,608.7 628.1,609.1C629.1,609.5 630.1,609.9 631.1,610.3C632.1,610.7 633.1,611.1 634.1,611.5C635.1,611.8 636.1,612.2 637.1,612.6C638.1,613.0 639.1,613.3 640.1,613.7C641.1,614.1 642.1,614.4 643.1,614.8C644.1,615.1 645.1,615.5 646.1,615.8C647.1,616.1 648.1,616.5 649.1,616.8C650.1,617.1 651.1,617.4 652.1,617.8C653.1,618.1 654.1,618.4 655.1,618.7C656.1,619.0 657.1,619.3 658.1,619.5C659.1,619.8 660.1,620.1 661.1,620.4C662.1,620.7 663.1,620.9 664.1,621.2C665.1,621.4 666.1,621.7 667.1,621.9C668.1,622.2 669.1,622.4 670.1,622.7C671.1,622.9 672.1,623.1 673.1,623.3C674.1,623.6 675.1,623.8 676.1,624.0C677.1,624.2 678.1,624.4 679.1,624.6C680.1,624.8 681.1,625.0 682.1,625.2C683.1,625.4 684.1,625.5 685.1,625.7C686.1,625.9 687.1,626.1 688.1,626.2C689.1,626.4 690.1,626.6 691.1,626.7C692.1,626.9 693.1,627.0 694.1,627.1C695.1,627.3 696.1,627.4 697.1,627.6C698.1,627.7 699.1,627.8 700.1,627.9C701.1,628.1 702.1,628.2 703.1,628.3C704.1,628.4 705.1,628.5 706.1,628.6C707.1,628.7 708.1,628.8 709.1,628.9C710.1,629.0 711.1,629.1 712.1,629.2C713.1,629.3 714.1,629.4 715.1,629.4C716.1,629.5 717.1,629.6 718.1,629.7C719.1,629.7 720.1,629.8 721.1,629.9C722.1,629.9 723.1,630.0 724.1,630.0C725.1,630.1 726.1,630.1 727.1,630.2C728.1,630.2 729.1,630.3 730.1,630.3C731.1,630.3 732.1,630.4 733.1,630.4C734.1,630.4 735.1,630.5 736.1,630.5C737.1,630.5 738.1,630.5 739.1,630.6C740.1,630.6 741.1,630.6 742.1,630.6C743.1,630.6 744.1,630.6 745.1,630.6C746.1,630.6 747.1,630.7 748.1,630.7C749.1,630.7 750.1,630.7 751.1,630.7C752.1,630.6 753.1,630.6 754.1,630.6C755.1,630.6 756.1,630.6 757.1,630.6C758.1,630.6 759.1,630.6 760.1,630.6C761.1,630.5 762.1,630.5 763.1,630.5C764.1,630.5 765.1,630.5 766.1,630.4C767.1,630.4 768.1,630.4 769.1,630.3C770.1,630.3 771.1,630.3 772.1,630.3C773.1,630.2 774.1,630.2 775.1,630.2C776.1,630.1 777.1,630.1 778.1,630.0C779.1,630.0 780.1,630.0 781.1,629.9C782.1,629.9 783.1,629.8 784.1,629.8C785.1,629.8 786.1,629.7 787.1,629.7C788.1,629.6 789.1,629.6 790.1,629.5C791.1,629.5 792.1,629.4 793.1,629.4C794.1,629.3 795.1,629.3 796.1,629.2C797.1,629.2 798.1,629.1 799.1,629.1C800.1,629.0 801.1,629.0 802.1,628.9C803.1,628.9 804.1,628.8 805.1,628.8C806.1,628.7 807.1,628.6 808.1,628.6C809.1,628.5 810.1,628.5 811.1,628.4C812.1,628.4 813.1,628.3 814.1,628.2C815.1,628.2 816.1,628.1 817.1,628.0C818.1,628.0 819.1,627.9 820.1,627.8C821.1,627.8 822.1,627.7 823.1,627.7C824.1,627.6 825.1,627.5 826.1,627.5C827.1,627.4 828.1,627.3 829.1,627.2C830.1,627.2 831.1,627.1 832.1,627.0C833.1,627.0 834.1,626.9 835.1,626.8C836.1,626.8 837.1,626.7 838.1,626.6C839.1,626.5 840.1,626.5 841.1,626.4C842.1,626.3 843.1,626.2 844.1,626.2C845.1,626.1 846.1,626.0 847.1,625.9C848.1,625.9 849.1,625.8 850.1,625.7C851.1,625.6 852.1,625.6 853.1,625.5C854.1,625.4 855.1,625.3 856.1,625.3C857.1,625.2 858.1,625.1 859.1,625.0C860.1,624.9 861.1,624.9 862.1,624.8C863.1,624.7 864.1,624.6 865.1,624.5C866.1,624.5 867.1,624.4 868.1,624.3C869.1,624.2 870.1,624.1 871.1,624.1C872.1,624.0 873.1,623.9 874.1,623.8C875.1,623.7 876.1,623.6 877.1,623.6C878.1,623.5 879.1,623.4 880.1,623.3C881.1,623.2 882.1,623.1 883.1,623.1C884.1,623.0 885.1,622.9 886.1,622.8C887.1,622.7 888.1,622.6 889.1,622.6C890.1,622.5 891.1,622.4 892.1,622.3C893.1,622.2 894.1,622.1 895.1,622.1C896.1,622.0 897.1,621.9 898.1,621.8C899.1,621.7 900.1,621.6 901.1,621.6C902.1,621.5 903.1,621.4 904.1,621.3C905.1,621.2 906.1,621.1 907.1,621.1C908.1,621.0 909.1,620.9 910.1,620.8C911.1,620.7 912.1,620.7 913.1,620.6C914.1,620.5 915.1,620.4 916.1,620.3C917.1,620.2 918.1,620.2 919.1,620.1C920.1,620.0 921.1,619.9 922.1,619.8C923.1,619.8 924.1,619.7 925.1,619.6C926.1,619.5 927.1,619.4 928.1,619.3C929.1,619.3 930.1,619.2 931.1,619.1C932.1,619.0 933.1,619.0 934.1,618.9C935.1,618.8 936.1,618.7 937.1,618.6C938.1,618.6 939.1,618.5 940.1,618.4C941.1,618.3 942.1,618.3 943.1,618.2C944.1,618.1 945.1,618.0 946.1,618.0C947.1,617.9 948.1,617.8 949.1,617.7C950.1,617.7 951.1,617.6 952.1,617.5C953.1,617.4 954.1,617.4 955.1,617.3C956.1,617.2 957.1,617.1 958.1,617.1C959.1,617.0 960.1,616.9 961.1,616.9C962.1,616.8 963.1,616.7 964.1,616.7C965.1,616.6 966.1,616.5 967.1,616.5C968.1,616.4 969.1,616.3 970.1,616.3C971.1,616.2 972.1,616.1 973.1,616.1C974.1,616.0 975.1,615.9 976.1,615.9C977.1,615.8 978.1,615.8 979.1,615.7C980.1,615.6 981.1,615.6 982.1,615.5C983.1,615.5 984.1,615.4 985.1,615.3C986.1,615.3 987.1,615.2 988.1,615.2C989.1,615.1 990.1,615.1 991.1,615.0C992.1,615.0 993.1,614.9 994.1,614.9C995.1,614.8 996.1,614.7 997.1,614.7C998.1,614.6 999.1,614.6 1000.1,614.6C1001.1,614.5 1002.1,614.5 1003.1,614.4C1004.1,614.4 1005.4,614.3 1005.9,614.3" fill="none" stroke="#111" stroke-width="1.4"/>
<path d="M209.9,946.7v7.3M426.3,946.7v7.3M642.6,946.7v7.3M859.0,946.7v7.3M130.9,99.5h-7.6M130.9,330.0h-7.6M130.9,560.5h-7.6M130.9,791.0h-7.6" stroke="#333" stroke-width="1.2" fill="none"/>
<text x="210.9" y="974" text-anchor="middle" style="font-size:18.8px;fill:#4d4d4d;stroke:#4d4d4d;stroke-width:0.25">100</text>
<text x="427.3" y="974" text-anchor="middle" style="font-size:18.8px;fill:#4d4d4d;stroke:#4d4d4d;stroke-width:0.25">200</text>
<text x="643.6" y="974" text-anchor="middle" style="font-size:18.8px;fill:#4d4d4d;stroke:#4d4d4d;stroke-width:0.25">300</text>
<text x="860.0" y="974" text-anchor="middle" style="font-size:18.8px;fill:#4d4d4d;stroke:#4d4d4d;stroke-width:0.25">400</text>
<text x="114.6" y="106.1" text-anchor="end" style="font-size:18.8px;fill:#4d4d4d;stroke:#4d4d4d;stroke-width:0.25">2</text>
<text x="114.6" y="336.6" text-anchor="end" style="font-size:18.8px;fill:#4d4d4d;stroke:#4d4d4d;stroke-width:0.25">1</text>
<text x="114.6" y="567.1" text-anchor="end" style="font-size:18.8px;fill:#4d4d4d;stroke:#4d4d4d;stroke-width:0.25">0</text>
<text x="111.0" y="797.6" text-anchor="end" style="font-size:18.8px;fill:#4d4d4d;stroke:#4d4d4d;stroke-width:0.25">−1</text>
<text x="0" y="13" style="font-size:19.6px;font-weight:bold;fill:#222;stroke:#222;stroke-width:0.3">A</text>
<text x="63.3" y="19" textLength="161.3" lengthAdjust="spacingAndGlyphs" style="font-size:19.2px;fill:#111;stroke:#111;stroke-width:0.2">JAVELIN Renal 101</text>
<text x="497.8" y="998" textLength="179" lengthAdjust="spacingAndGlyphs" style="font-size:19.0px;fill:#111;stroke:#111;stroke-width:0.2">sMAdCAM-1 (ng/mL)</text>
<text transform="translate(63.4,488.5) rotate(-90)" text-anchor="middle" style="font-size:19.4px;fill:#111;stroke:#111;stroke-width:0.2">OS</text>
<text transform="translate(83.2,570.8) rotate(-90)" textLength="164.5" lengthAdjust="spacingAndGlyphs" style="font-size:19.4px;fill:#111;stroke:#111;stroke-width:0.2">log Relative Hazard</text>
<path d="M132.5,1132.3H1041.5M132.5,1290.5H1041.5M132.5,1607.0H1041.5M132.5,1765.2H1041.5" stroke="#ededed" stroke-width="1" fill="none"/>
<path d="M132.5,1448.8H1043.5" stroke="#8f8f8f" stroke-width="1" fill="none"/>
<g fill="none" stroke="#111" stroke-width="1.05">
<ellipse cx="472.5" cy="1516.9" rx="7.3" ry="8"/>
<ellipse cx="482.7" cy="1516.0" rx="7.3" ry="8"/>
<ellipse cx="479.1" cy="1519.4" rx="7.3" ry="8"/>
<ellipse cx="464.2" cy="1521.1" rx="7.3" ry="8"/>
<ellipse cx="463.6" cy="1520.2" rx="7.3" ry="8"/>
<ellipse cx="464.6" cy="1516.2" rx="7.3" ry="8"/>
<ellipse cx="475.6" cy="1524.8" rx="7.3" ry="8"/>
<ellipse cx="466.3" cy="1517.8" rx="7.3" ry="8"/>
<ellipse cx="482.0" cy="1526.2" rx="7.3" ry="8"/>
<ellipse cx="480.4" cy="1519.8" rx="7.3" ry="8"/>
<ellipse cx="492.9" cy="1515.7" rx="7.3" ry="8"/>
<ellipse cx="489.2" cy="1518.5" rx="7.3" ry="8"/>
<ellipse cx="466.9" cy="1516.5" rx="7.3" ry="8"/>
<ellipse cx="472.0" cy="1524.7" rx="7.3" ry="8"/>
<ellipse cx="468.0" cy="1522.0" rx="7.3" ry="8"/>
<ellipse cx="532.3" cy="1517.0" rx="7.3" ry="8"/>
<ellipse cx="530.1" cy="1512.2" rx="7.3" ry="8"/>
<ellipse cx="518.7" cy="1514.4" rx="7.3" ry="8"/>
<ellipse cx="533.2" cy="1517.9" rx="7.3" ry="8"/>
<ellipse cx="525.7" cy="1495.6" rx="7.3" ry="8"/>
<ellipse cx="528.9" cy="1490.4" rx="7.3" ry="8"/>
<ellipse cx="536.9" cy="1497.6" rx="7.3" ry="8"/>
<ellipse cx="524.0" cy="1495.4" rx="7.3" ry="8"/>
<ellipse cx="690.5" cy="1492.9" rx="7.3" ry="8"/>
<ellipse cx="694.8" cy="1483.7" rx="7.3" ry="8"/>
<ellipse cx="700.0" cy="1481.0" rx="7.3" ry="8"/>
<ellipse cx="688.3" cy="1491.0" rx="7.3" ry="8"/>
<ellipse cx="682.8" cy="1486.8" rx="7.3" ry="8"/>
<ellipse cx="680.4" cy="1489.6" rx="7.3" ry="8"/>
<ellipse cx="695.5" cy="1488.1" rx="7.3" ry="8"/>
<ellipse cx="697.8" cy="1484.1" rx="7.3" ry="8"/>
<ellipse cx="671.0" cy="1490.2" rx="7.3" ry="8"/>
<ellipse cx="669.2" cy="1488.4" rx="7.3" ry="8"/>
<ellipse cx="673.3" cy="1494.8" rx="7.3" ry="8"/>
<ellipse cx="667.6" cy="1491.1" rx="7.3" ry="8"/>
<ellipse cx="582.7" cy="1488.1" rx="7.3" ry="8"/>
<ellipse cx="596.4" cy="1492.7" rx="7.3" ry="8"/>
<ellipse cx="600.5" cy="1481.6" rx="7.3" ry="8"/>
<ellipse cx="590.3" cy="1487.6" rx="7.3" ry="8"/>
<ellipse cx="581.8" cy="1484.4" rx="7.3" ry="8"/>
<ellipse cx="585.2" cy="1479.0" rx="7.3" ry="8"/>
<ellipse cx="610.0" cy="1485.8" rx="7.3" ry="8"/>
<ellipse cx="611.3" cy="1478.4" rx="7.3" ry="8"/>
<ellipse cx="616.0" cy="1487.3" rx="7.3" ry="8"/>
<ellipse cx="610.4" cy="1481.3" rx="7.3" ry="8"/>
<ellipse cx="618.9" cy="1487.5" rx="7.3" ry="8"/>
<ellipse cx="623.8" cy="1487.2" rx="7.3" ry="8"/>
<ellipse cx="614.0" cy="1480.8" rx="7.3" ry="8"/>
<ellipse cx="615.4" cy="1487.5" rx="7.3" ry="8"/>
<ellipse cx="630.5" cy="1494.5" rx="7.3" ry="8"/>
<ellipse cx="614.3" cy="1495.5" rx="7.3" ry="8"/>
<ellipse cx="615.5" cy="1498.8" rx="7.3" ry="8"/>
<ellipse cx="622.9" cy="1495.9" rx="7.3" ry="8"/>
<ellipse cx="610.7" cy="1497.9" rx="7.3" ry="8"/>
<ellipse cx="618.3" cy="1499.9" rx="7.3" ry="8"/>
<ellipse cx="630.4" cy="1501.5" rx="7.3" ry="8"/>
<ellipse cx="621.3" cy="1500.5" rx="7.3" ry="8"/>
<ellipse cx="592.2" cy="1494.2" rx="7.3" ry="8"/>
<ellipse cx="596.3" cy="1503.6" rx="7.3" ry="8"/>
<ellipse cx="595.8" cy="1503.9" rx="7.3" ry="8"/>
<ellipse cx="587.0" cy="1498.7" rx="7.3" ry="8"/>
<ellipse cx="581.8" cy="1501.7" rx="7.3" ry="8"/>
<ellipse cx="581.0" cy="1494.4" rx="7.3" ry="8"/>
<ellipse cx="656.2" cy="1474.6" rx="7.3" ry="8"/>
<ellipse cx="657.9" cy="1473.2" rx="7.3" ry="8"/>
<ellipse cx="653.5" cy="1474.5" rx="7.3" ry="8"/>
<ellipse cx="654.8" cy="1477.2" rx="7.3" ry="8"/>
<ellipse cx="491.8" cy="1528.9" rx="7.3" ry="8"/>
<ellipse cx="499.5" cy="1521.3" rx="7.3" ry="8"/>
<ellipse cx="494.8" cy="1523.4" rx="7.3" ry="8"/>
<ellipse cx="496.2" cy="1521.1" rx="7.3" ry="8"/>
<ellipse cx="378.2" cy="1551.3" rx="7.3" ry="8"/>
<ellipse cx="369.2" cy="1540.7" rx="7.3" ry="8"/>
<ellipse cx="360.3" cy="1532.7" rx="7.3" ry="8"/>
<ellipse cx="366.3" cy="1536.1" rx="7.3" ry="8"/>
<ellipse cx="377.7" cy="1534.0" rx="7.3" ry="8"/>
<ellipse cx="358.8" cy="1550.4" rx="7.3" ry="8"/>
<ellipse cx="370.7" cy="1533.6" rx="7.3" ry="8"/>
<ellipse cx="371.0" cy="1531.2" rx="7.3" ry="8"/>
<ellipse cx="386.7" cy="1528.5" rx="7.3" ry="8"/>
<ellipse cx="394.5" cy="1524.1" rx="7.3" ry="8"/>
<ellipse cx="380.4" cy="1518.9" rx="7.3" ry="8"/>
<ellipse cx="378.2" cy="1525.2" rx="7.3" ry="8"/>
<ellipse cx="386.8" cy="1525.4" rx="7.3" ry="8"/>
<ellipse cx="382.0" cy="1516.7" rx="7.3" ry="8"/>
<ellipse cx="442.2" cy="1501.5" rx="7.3" ry="8"/>
<ellipse cx="442.7" cy="1500.6" rx="7.3" ry="8"/>
<ellipse cx="350.3" cy="1542.2" rx="7.3" ry="8"/>
<ellipse cx="334.9" cy="1536.5" rx="7.3" ry="8"/>
<ellipse cx="338.2" cy="1523.8" rx="7.3" ry="8"/>
<ellipse cx="329.7" cy="1530.3" rx="7.3" ry="8"/>
<ellipse cx="335.7" cy="1541.0" rx="7.3" ry="8"/>
<ellipse cx="353.9" cy="1534.6" rx="7.3" ry="8"/>
<ellipse cx="353.4" cy="1548.7" rx="7.3" ry="8"/>
<ellipse cx="552.1" cy="1505.9" rx="7.3" ry="8"/>
<ellipse cx="540.6" cy="1503.7" rx="7.3" ry="8"/>
<ellipse cx="540.3" cy="1503.4" rx="7.3" ry="8"/>
<ellipse cx="546.9" cy="1514.2" rx="7.3" ry="8"/>
<ellipse cx="719.1" cy="1487.7" rx="7.3" ry="8"/>
<ellipse cx="715.2" cy="1492.7" rx="7.3" ry="8"/>
<ellipse cx="703.4" cy="1490.5" rx="7.3" ry="8"/>
<ellipse cx="720.5" cy="1492.4" rx="7.3" ry="8"/>
<ellipse cx="198.5" cy="1156.1" rx="7.3" ry="8"/>
<ellipse cx="205.8" cy="1160.8" rx="7.3" ry="8"/>
<ellipse cx="200.1" cy="1170.8" rx="7.3" ry="8"/>
<ellipse cx="222.5" cy="1166.1" rx="7.3" ry="8"/>
<ellipse cx="224.5" cy="1180.8" rx="7.3" ry="8"/>
<ellipse cx="239.2" cy="1144.1" rx="7.3" ry="8"/>
<ellipse cx="246.6" cy="1160.5" rx="7.3" ry="8"/>
<ellipse cx="244.6" cy="1176.8" rx="7.3" ry="8"/>
<ellipse cx="242.9" cy="1190.5" rx="7.3" ry="8"/>
<ellipse cx="257.6" cy="1141.8" rx="7.3" ry="8"/>
<ellipse cx="265.3" cy="1150.1" rx="7.3" ry="8"/>
<ellipse cx="268.9" cy="1150.1" rx="7.3" ry="8"/>
<ellipse cx="254.2" cy="1175.2" rx="7.3" ry="8"/>
<ellipse cx="259.6" cy="1172.5" rx="7.3" ry="8"/>
<ellipse cx="259.6" cy="1176.8" rx="7.3" ry="8"/>
<ellipse cx="283.6" cy="1178.5" rx="7.3" ry="8"/>
<ellipse cx="294.7" cy="1150.4" rx="7.3" ry="8"/>
<ellipse cx="296.3" cy="1182.2" rx="7.3" ry="8"/>
<ellipse cx="303.7" cy="1188.5" rx="7.3" ry="8"/>
<ellipse cx="325.4" cy="1137.7" rx="7.3" ry="8"/>
<ellipse cx="324.1" cy="1144.1" rx="7.3" ry="8"/>
<ellipse cx="349.4" cy="1140.1" rx="7.3" ry="8"/>
<ellipse cx="340.8" cy="1164.1" rx="7.3" ry="8"/>
<ellipse cx="346.1" cy="1180.2" rx="7.3" ry="8"/>
<ellipse cx="362.8" cy="1160.1" rx="7.3" ry="8"/>
<ellipse cx="359.1" cy="1174.1" rx="7.3" ry="8"/>
<ellipse cx="359.1" cy="1176.8" rx="7.3" ry="8"/>
<ellipse cx="370.5" cy="1170.1" rx="7.3" ry="8"/>
<ellipse cx="374.2" cy="1164.5" rx="7.3" ry="8"/>
<ellipse cx="373.8" cy="1151.8" rx="7.3" ry="8"/>
<ellipse cx="381.2" cy="1136.1" rx="7.3" ry="8"/>
<ellipse cx="359.1" cy="1190.5" rx="7.3" ry="8"/>
<ellipse cx="349.8" cy="1198.5" rx="7.3" ry="8"/>
<ellipse cx="340.4" cy="1206.9" rx="7.3" ry="8"/>
<ellipse cx="344.1" cy="1220.9" rx="7.3" ry="8"/>
<ellipse cx="353.4" cy="1247.0" rx="7.3" ry="8"/>
<ellipse cx="390.5" cy="1245.3" rx="7.3" ry="8"/>
<ellipse cx="399.5" cy="1228.6" rx="7.3" ry="8"/>
<ellipse cx="397.9" cy="1192.9" rx="7.3" ry="8"/>
<ellipse cx="405.2" cy="1181.8" rx="7.3" ry="8"/>
<ellipse cx="410.6" cy="1133.4" rx="7.3" ry="8"/>
<ellipse cx="404.5" cy="1144.4" rx="7.3" ry="8"/>
<ellipse cx="405.9" cy="1147.4" rx="7.3" ry="8"/>
<ellipse cx="405.9" cy="1151.8" rx="7.3" ry="8"/>
<ellipse cx="407.9" cy="1155.1" rx="7.3" ry="8"/>
<ellipse cx="417.9" cy="1144.1" rx="7.3" ry="8"/>
<ellipse cx="414.2" cy="1162.8" rx="7.3" ry="8"/>
<ellipse cx="428.9" cy="1162.5" rx="7.3" ry="8"/>
<ellipse cx="425.6" cy="1184.5" rx="7.3" ry="8"/>
<ellipse cx="453.0" cy="1136.7" rx="7.3" ry="8"/>
<ellipse cx="449.6" cy="1146.1" rx="7.3" ry="8"/>
<ellipse cx="456.7" cy="1153.4" rx="7.3" ry="8"/>
<ellipse cx="460.3" cy="1162.5" rx="7.3" ry="8"/>
<ellipse cx="466.3" cy="1136.1" rx="7.3" ry="8"/>
<ellipse cx="466.0" cy="1190.5" rx="7.3" ry="8"/>
<ellipse cx="464.0" cy="1214.6" rx="7.3" ry="8"/>
<ellipse cx="449.3" cy="1245.3" rx="7.3" ry="8"/>
<ellipse cx="167.4" cy="1208.6" rx="7.3" ry="8"/>
<ellipse cx="178.8" cy="1206.2" rx="7.3" ry="8"/>
<ellipse cx="174.8" cy="1212.9" rx="7.3" ry="8"/>
<ellipse cx="207.8" cy="1232.9" rx="7.3" ry="8"/>
<ellipse cx="239.2" cy="1240.9" rx="7.3" ry="8"/>
<ellipse cx="240.9" cy="1251.3" rx="7.3" ry="8"/>
<ellipse cx="253.9" cy="1214.6" rx="7.3" ry="8"/>
<ellipse cx="263.3" cy="1226.9" rx="7.3" ry="8"/>
<ellipse cx="314.7" cy="1224.9" rx="7.3" ry="8"/>
<ellipse cx="305.7" cy="1265.3" rx="7.3" ry="8"/>
<ellipse cx="165.7" cy="1271.0" rx="7.3" ry="8"/>
<ellipse cx="252.2" cy="1287.0" rx="7.3" ry="8"/>
<ellipse cx="335.1" cy="1287.0" rx="7.3" ry="8"/>
<ellipse cx="207.8" cy="1307.4" rx="7.3" ry="8"/>
<ellipse cx="240.6" cy="1311.4" rx="7.3" ry="8"/>
<ellipse cx="250.2" cy="1313.1" rx="7.3" ry="8"/>
<ellipse cx="265.3" cy="1327.5" rx="7.3" ry="8"/>
<ellipse cx="255.9" cy="1359.5" rx="7.3" ry="8"/>
<ellipse cx="477.3" cy="1134.4" rx="7.3" ry="8"/>
<ellipse cx="494.0" cy="1132.4" rx="7.3" ry="8"/>
<ellipse cx="486.0" cy="1145.8" rx="7.3" ry="8"/>
<ellipse cx="473.3" cy="1150.1" rx="7.3" ry="8"/>
<ellipse cx="484.4" cy="1156.8" rx="7.3" ry="8"/>
<ellipse cx="478.7" cy="1172.5" rx="7.3" ry="8"/>
<ellipse cx="504.7" cy="1166.8" rx="7.3" ry="8"/>
<ellipse cx="482.7" cy="1192.5" rx="7.3" ry="8"/>
<ellipse cx="492.0" cy="1192.5" rx="7.3" ry="8"/>
<ellipse cx="497.4" cy="1186.2" rx="7.3" ry="8"/>
<ellipse cx="505.1" cy="1185.2" rx="7.3" ry="8"/>
<ellipse cx="506.7" cy="1181.8" rx="7.3" ry="8"/>
<ellipse cx="513.8" cy="1200.5" rx="7.3" ry="8"/>
<ellipse cx="495.4" cy="1208.6" rx="7.3" ry="8"/>
<ellipse cx="491.7" cy="1215.6" rx="7.3" ry="8"/>
<ellipse cx="486.0" cy="1247.0" rx="7.3" ry="8"/>
<ellipse cx="492.0" cy="1249.0" rx="7.3" ry="8"/>
<ellipse cx="519.4" cy="1248.6" rx="7.3" ry="8"/>
<ellipse cx="526.8" cy="1168.5" rx="7.3" ry="8"/>
<ellipse cx="539.5" cy="1138.4" rx="7.3" ry="8"/>
<ellipse cx="550.2" cy="1132.4" rx="7.3" ry="8"/>
<ellipse cx="556.2" cy="1134.4" rx="7.3" ry="8"/>
<ellipse cx="537.8" cy="1161.8" rx="7.3" ry="8"/>
<ellipse cx="539.5" cy="1164.1" rx="7.3" ry="8"/>
<ellipse cx="544.8" cy="1167.8" rx="7.3" ry="8"/>
<ellipse cx="537.8" cy="1180.8" rx="7.3" ry="8"/>
<ellipse cx="552.5" cy="1174.5" rx="7.3" ry="8"/>
<ellipse cx="574.9" cy="1158.5" rx="7.3" ry="8"/>
<ellipse cx="589.6" cy="1168.5" rx="7.3" ry="8"/>
<ellipse cx="570.9" cy="1187.8" rx="7.3" ry="8"/>
<ellipse cx="581.9" cy="1192.5" rx="7.3" ry="8"/>
<ellipse cx="565.5" cy="1204.5" rx="7.3" ry="8"/>
<ellipse cx="572.9" cy="1283.0" rx="7.3" ry="8"/>
<ellipse cx="602.3" cy="1144.4" rx="7.3" ry="8"/>
<ellipse cx="609.6" cy="1134.4" rx="7.3" ry="8"/>
<ellipse cx="620.6" cy="1145.8" rx="7.3" ry="8"/>
<ellipse cx="626.3" cy="1154.1" rx="7.3" ry="8"/>
<ellipse cx="610.3" cy="1171.8" rx="7.3" ry="8"/>
<ellipse cx="611.3" cy="1172.8" rx="7.3" ry="8"/>
<ellipse cx="605.9" cy="1184.8" rx="7.3" ry="8"/>
<ellipse cx="628.3" cy="1196.9" rx="7.3" ry="8"/>
<ellipse cx="622.6" cy="1232.9" rx="7.3" ry="8"/>
<ellipse cx="637.0" cy="1158.5" rx="7.3" ry="8"/>
<ellipse cx="646.7" cy="1156.1" rx="7.3" ry="8"/>
<ellipse cx="635.3" cy="1176.8" rx="7.3" ry="8"/>
<ellipse cx="641.0" cy="1176.8" rx="7.3" ry="8"/>
<ellipse cx="663.4" cy="1164.1" rx="7.3" ry="8"/>
<ellipse cx="674.1" cy="1171.8" rx="7.3" ry="8"/>
<ellipse cx="675.7" cy="1180.8" rx="7.3" ry="8"/>
<ellipse cx="687.4" cy="1178.8" rx="7.3" ry="8"/>
<ellipse cx="677.7" cy="1198.5" rx="7.3" ry="8"/>
<ellipse cx="677.7" cy="1138.4" rx="7.3" ry="8"/>
<ellipse cx="687.4" cy="1144.4" rx="7.3" ry="8"/>
<ellipse cx="716.8" cy="1138.4" rx="7.3" ry="8"/>
<ellipse cx="712.8" cy="1160.8" rx="7.3" ry="8"/>
<ellipse cx="726.2" cy="1158.5" rx="7.3" ry="8"/>
<ellipse cx="720.5" cy="1178.8" rx="7.3" ry="8"/>
<ellipse cx="808.3" cy="1144.4" rx="7.3" ry="8"/>
<ellipse cx="817.4" cy="1140.7" rx="7.3" ry="8"/>
<ellipse cx="851.6" cy="1152.4" rx="7.3" ry="8"/>
<ellipse cx="856.7" cy="1152.4" rx="7.3" ry="8"/>
<ellipse cx="888.4" cy="1134.4" rx="7.3" ry="8"/>
<ellipse cx="844.0" cy="1192.5" rx="7.3" ry="8"/>
<ellipse cx="967.5" cy="1168.5" rx="7.3" ry="8"/>
<ellipse cx="252.1" cy="1482.6" rx="7.3" ry="8"/>
<ellipse cx="266.7" cy="1517.2" rx="7.3" ry="8"/>
<ellipse cx="267.2" cy="1517.6" rx="7.3" ry="8"/>
<ellipse cx="174.8" cy="1531.0" rx="7.3" ry="8"/>
<ellipse cx="208.0" cy="1525.0" rx="7.3" ry="8"/>
<ellipse cx="222.8" cy="1531.0" rx="7.3" ry="8"/>
<ellipse cx="209.9" cy="1547.5" rx="7.3" ry="8"/>
<ellipse cx="183.7" cy="1551.8" rx="7.3" ry="8"/>
<ellipse cx="181.8" cy="1557.7" rx="7.3" ry="8"/>
<ellipse cx="195.1" cy="1553.4" rx="7.3" ry="8"/>
<ellipse cx="189.4" cy="1579.4" rx="7.3" ry="8"/>
<ellipse cx="231.9" cy="1577.5" rx="7.3" ry="8"/>
<ellipse cx="245.0" cy="1560.8" rx="7.3" ry="8"/>
<ellipse cx="246.4" cy="1575.6" rx="7.3" ry="8"/>
<ellipse cx="261.4" cy="1539.4" rx="7.3" ry="8"/>
<ellipse cx="261.2" cy="1573.2" rx="7.3" ry="8"/>
<ellipse cx="266.9" cy="1583.5" rx="7.3" ry="8"/>
<ellipse cx="274.3" cy="1537.0" rx="7.3" ry="8"/>
<ellipse cx="273.1" cy="1550.6" rx="7.3" ry="8"/>
<ellipse cx="276.0" cy="1552.2" rx="7.3" ry="8"/>
<ellipse cx="277.9" cy="1565.4" rx="7.3" ry="8"/>
<ellipse cx="285.1" cy="1531.5" rx="7.3" ry="8"/>
<ellipse cx="292.7" cy="1521.2" rx="7.3" ry="8"/>
<ellipse cx="303.7" cy="1511.2" rx="7.3" ry="8"/>
<ellipse cx="311.3" cy="1513.1" rx="7.3" ry="8"/>
<ellipse cx="303.7" cy="1527.2" rx="7.3" ry="8"/>
<ellipse cx="288.6" cy="1575.1" rx="7.3" ry="8"/>
<ellipse cx="298.2" cy="1571.3" rx="7.3" ry="8"/>
<ellipse cx="283.4" cy="1591.1" rx="7.3" ry="8"/>
<ellipse cx="305.8" cy="1551.8" rx="7.3" ry="8"/>
<ellipse cx="308.9" cy="1552.9" rx="7.3" ry="8"/>
<ellipse cx="314.4" cy="1541.0" rx="7.3" ry="8"/>
<ellipse cx="324.8" cy="1458.6" rx="7.3" ry="8"/>
<ellipse cx="394.2" cy="1448.2" rx="7.3" ry="8"/>
<ellipse cx="438.5" cy="1448.2" rx="7.3" ry="8"/>
<ellipse cx="432.8" cy="1466.6" rx="7.3" ry="8"/>
<ellipse cx="475.4" cy="1458.0" rx="7.3" ry="8"/>
<ellipse cx="481.1" cy="1461.0" rx="7.3" ry="8"/>
<ellipse cx="473.7" cy="1478.1" rx="7.3" ry="8"/>
<ellipse cx="372.0" cy="1480.9" rx="7.3" ry="8"/>
<ellipse cx="385.3" cy="1480.9" rx="7.3" ry="8"/>
<ellipse cx="416.5" cy="1478.1" rx="7.3" ry="8"/>
<ellipse cx="412.8" cy="1484.7" rx="7.3" ry="8"/>
<ellipse cx="362.9" cy="1500.1" rx="7.3" ry="8"/>
<ellipse cx="368.1" cy="1499.3" rx="7.3" ry="8"/>
<ellipse cx="381.5" cy="1502.7" rx="7.3" ry="8"/>
<ellipse cx="395.6" cy="1504.4" rx="7.3" ry="8"/>
<ellipse cx="401.6" cy="1499.3" rx="7.3" ry="8"/>
<ellipse cx="407.6" cy="1498.4" rx="7.3" ry="8"/>
<ellipse cx="410.2" cy="1502.7" rx="7.3" ry="8"/>
<ellipse cx="421.7" cy="1497.5" rx="7.3" ry="8"/>
<ellipse cx="426.5" cy="1503.6" rx="7.3" ry="8"/>
<ellipse cx="433.4" cy="1500.1" rx="7.3" ry="8"/>
<ellipse cx="438.5" cy="1499.3" rx="7.3" ry="8"/>
<ellipse cx="441.1" cy="1498.4" rx="7.3" ry="8"/>
<ellipse cx="442.8" cy="1499.3" rx="7.3" ry="8"/>
<ellipse cx="451.4" cy="1499.3" rx="7.3" ry="8"/>
<ellipse cx="463.4" cy="1497.5" rx="7.3" ry="8"/>
<ellipse cx="479.7" cy="1493.2" rx="7.3" ry="8"/>
<ellipse cx="484.9" cy="1491.5" rx="7.3" ry="8"/>
<ellipse cx="491.8" cy="1495.0" rx="7.3" ry="8"/>
<ellipse cx="481.5" cy="1499.3" rx="7.3" ry="8"/>
<ellipse cx="335.1" cy="1512.1" rx="7.3" ry="8"/>
<ellipse cx="344.0" cy="1519.9" rx="7.3" ry="8"/>
<ellipse cx="328.6" cy="1522.4" rx="7.3" ry="8"/>
<ellipse cx="334.6" cy="1525.0" rx="7.3" ry="8"/>
<ellipse cx="338.0" cy="1525.9" rx="7.3" ry="8"/>
<ellipse cx="342.3" cy="1529.3" rx="7.3" ry="8"/>
<ellipse cx="351.8" cy="1525.9" rx="7.3" ry="8"/>
<ellipse cx="362.1" cy="1519.0" rx="7.3" ry="8"/>
<ellipse cx="367.2" cy="1522.4" rx="7.3" ry="8"/>
<ellipse cx="377.5" cy="1517.3" rx="7.3" ry="8"/>
<ellipse cx="381.8" cy="1515.6" rx="7.3" ry="8"/>
<ellipse cx="385.3" cy="1516.4" rx="7.3" ry="8"/>
<ellipse cx="387.8" cy="1515.6" rx="7.3" ry="8"/>
<ellipse cx="392.1" cy="1517.3" rx="7.3" ry="8"/>
<ellipse cx="379.3" cy="1522.4" rx="7.3" ry="8"/>
<ellipse cx="399.0" cy="1512.1" rx="7.3" ry="8"/>
<ellipse cx="406.7" cy="1519.0" rx="7.3" ry="8"/>
<ellipse cx="417.9" cy="1519.0" rx="7.3" ry="8"/>
<ellipse cx="428.2" cy="1508.7" rx="7.3" ry="8"/>
<ellipse cx="440.2" cy="1519.0" rx="7.3" ry="8"/>
<ellipse cx="447.1" cy="1524.2" rx="7.3" ry="8"/>
<ellipse cx="455.7" cy="1512.1" rx="7.3" ry="8"/>
<ellipse cx="459.1" cy="1517.3" rx="7.3" ry="8"/>
<ellipse cx="464.3" cy="1519.9" rx="7.3" ry="8"/>
<ellipse cx="466.0" cy="1524.2" rx="7.3" ry="8"/>
<ellipse cx="468.6" cy="1513.9" rx="7.3" ry="8"/>
<ellipse cx="474.6" cy="1517.3" rx="7.3" ry="8"/>
<ellipse cx="479.7" cy="1519.0" rx="7.3" ry="8"/>
<ellipse cx="483.2" cy="1520.7" rx="7.3" ry="8"/>
<ellipse cx="485.8" cy="1517.3" rx="7.3" ry="8"/>
<ellipse cx="489.2" cy="1519.0" rx="7.3" ry="8"/>
<ellipse cx="491.8" cy="1522.4" rx="7.3" ry="8"/>
<ellipse cx="479.7" cy="1525.9" rx="7.3" ry="8"/>
<ellipse cx="484.9" cy="1525.9" rx="7.3" ry="8"/>
<ellipse cx="471.2" cy="1525.9" rx="7.3" ry="8"/>
<ellipse cx="323.4" cy="1543.1" rx="7.3" ry="8"/>
<ellipse cx="329.4" cy="1532.8" rx="7.3" ry="8"/>
<ellipse cx="337.2" cy="1536.2" rx="7.3" ry="8"/>
<ellipse cx="340.6" cy="1544.8" rx="7.3" ry="8"/>
<ellipse cx="344.0" cy="1549.9" rx="7.3" ry="8"/>
<ellipse cx="334.6" cy="1546.5" rx="7.3" ry="8"/>
<ellipse cx="352.6" cy="1531.0" rx="7.3" ry="8"/>
<ellipse cx="362.1" cy="1532.8" rx="7.3" ry="8"/>
<ellipse cx="364.7" cy="1539.6" rx="7.3" ry="8"/>
<ellipse cx="369.8" cy="1536.2" rx="7.3" ry="8"/>
<ellipse cx="373.2" cy="1541.3" rx="7.3" ry="8"/>
<ellipse cx="375.0" cy="1543.1" rx="7.3" ry="8"/>
<ellipse cx="376.7" cy="1544.8" rx="7.3" ry="8"/>
<ellipse cx="378.4" cy="1539.6" rx="7.3" ry="8"/>
<ellipse cx="371.5" cy="1546.5" rx="7.3" ry="8"/>
<ellipse cx="383.6" cy="1536.2" rx="7.3" ry="8"/>
<ellipse cx="388.7" cy="1529.3" rx="7.3" ry="8"/>
<ellipse cx="395.6" cy="1525.9" rx="7.3" ry="8"/>
<ellipse cx="399.0" cy="1531.0" rx="7.3" ry="8"/>
<ellipse cx="402.4" cy="1533.6" rx="7.3" ry="8"/>
<ellipse cx="405.0" cy="1537.9" rx="7.3" ry="8"/>
<ellipse cx="407.6" cy="1541.3" rx="7.3" ry="8"/>
<ellipse cx="417.9" cy="1531.0" rx="7.3" ry="8"/>
<ellipse cx="432.5" cy="1537.0" rx="7.3" ry="8"/>
<ellipse cx="454.0" cy="1532.8" rx="7.3" ry="8"/>
<ellipse cx="462.6" cy="1534.5" rx="7.3" ry="8"/>
<ellipse cx="466.0" cy="1537.9" rx="7.3" ry="8"/>
<ellipse cx="469.4" cy="1536.2" rx="7.3" ry="8"/>
<ellipse cx="490.0" cy="1541.3" rx="7.3" ry="8"/>
<ellipse cx="327.7" cy="1563.7" rx="7.3" ry="8"/>
<ellipse cx="334.6" cy="1562.0" rx="7.3" ry="8"/>
<ellipse cx="353.5" cy="1560.2" rx="7.3" ry="8"/>
<ellipse cx="354.4" cy="1553.4" rx="7.3" ry="8"/>
<ellipse cx="379.3" cy="1549.9" rx="7.3" ry="8"/>
<ellipse cx="399.9" cy="1549.9" rx="7.3" ry="8"/>
<ellipse cx="409.3" cy="1551.6" rx="7.3" ry="8"/>
<ellipse cx="408.5" cy="1555.1" rx="7.3" ry="8"/>
<ellipse cx="421.3" cy="1551.6" rx="7.3" ry="8"/>
<ellipse cx="385.3" cy="1563.7" rx="7.3" ry="8"/>
<ellipse cx="408.8" cy="1563.7" rx="7.3" ry="8"/>
<ellipse cx="449.7" cy="1552.5" rx="7.3" ry="8"/>
<ellipse cx="478.9" cy="1556.8" rx="7.3" ry="8"/>
<ellipse cx="488.3" cy="1555.1" rx="7.3" ry="8"/>
<ellipse cx="327.7" cy="1577.4" rx="7.3" ry="8"/>
<ellipse cx="340.6" cy="1575.7" rx="7.3" ry="8"/>
<ellipse cx="351.8" cy="1577.4" rx="7.3" ry="8"/>
<ellipse cx="499.1" cy="1448.7" rx="7.3" ry="8"/>
<ellipse cx="512.7" cy="1459.9" rx="7.3" ry="8"/>
<ellipse cx="506.2" cy="1468.7" rx="7.3" ry="8"/>
<ellipse cx="608.1" cy="1454.4" rx="7.3" ry="8"/>
<ellipse cx="635.5" cy="1464.7" rx="7.3" ry="8"/>
<ellipse cx="581.8" cy="1471.8" rx="7.3" ry="8"/>
<ellipse cx="716.6" cy="1471.8" rx="7.3" ry="8"/>
<ellipse cx="715.4" cy="1479.0" rx="7.3" ry="8"/>
<ellipse cx="499.1" cy="1488.5" rx="7.3" ry="8"/>
<ellipse cx="515.0" cy="1488.5" rx="7.3" ry="8"/>
<ellipse cx="525.8" cy="1488.5" rx="7.3" ry="8"/>
<ellipse cx="537.7" cy="1485.0" rx="7.3" ry="8"/>
<ellipse cx="538.9" cy="1487.3" rx="7.3" ry="8"/>
<ellipse cx="552.0" cy="1480.2" rx="7.3" ry="8"/>
<ellipse cx="564.0" cy="1485.0" rx="7.3" ry="8"/>
<ellipse cx="577.1" cy="1487.3" rx="7.3" ry="8"/>
<ellipse cx="587.8" cy="1482.6" rx="7.3" ry="8"/>
<ellipse cx="591.4" cy="1483.8" rx="7.3" ry="8"/>
<ellipse cx="595.0" cy="1482.6" rx="7.3" ry="8"/>
<ellipse cx="597.3" cy="1485.0" rx="7.3" ry="8"/>
<ellipse cx="614.0" cy="1480.2" rx="7.3" ry="8"/>
<ellipse cx="617.6" cy="1479.0" rx="7.3" ry="8"/>
<ellipse cx="620.0" cy="1480.2" rx="7.3" ry="8"/>
<ellipse cx="622.4" cy="1481.4" rx="7.3" ry="8"/>
<ellipse cx="618.8" cy="1485.0" rx="7.3" ry="8"/>
<ellipse cx="627.2" cy="1486.2" rx="7.3" ry="8"/>
<ellipse cx="633.1" cy="1488.5" rx="7.3" ry="8"/>
<ellipse cx="642.7" cy="1485.0" rx="7.3" ry="8"/>
<ellipse cx="649.8" cy="1479.0" rx="7.3" ry="8"/>
<ellipse cx="660.6" cy="1480.2" rx="7.3" ry="8"/>
<ellipse cx="666.5" cy="1471.8" rx="7.3" ry="8"/>
<ellipse cx="670.1" cy="1475.4" rx="7.3" ry="8"/>
<ellipse cx="666.5" cy="1483.8" rx="7.3" ry="8"/>
<ellipse cx="673.7" cy="1482.6" rx="7.3" ry="8"/>
<ellipse cx="685.6" cy="1475.4" rx="7.3" ry="8"/>
<ellipse cx="688.0" cy="1476.6" rx="7.3" ry="8"/>
<ellipse cx="692.8" cy="1479.0" rx="7.3" ry="8"/>
<ellipse cx="684.4" cy="1482.6" rx="7.3" ry="8"/>
<ellipse cx="697.5" cy="1483.8" rx="7.3" ry="8"/>
<ellipse cx="702.3" cy="1488.5" rx="7.3" ry="8"/>
<ellipse cx="705.9" cy="1480.2" rx="7.3" ry="8"/>
<ellipse cx="714.2" cy="1481.4" rx="7.3" ry="8"/>
<ellipse cx="493.6" cy="1495.7" rx="7.3" ry="8"/>
<ellipse cx="505.5" cy="1499.3" rx="7.3" ry="8"/>
<ellipse cx="515.0" cy="1500.5" rx="7.3" ry="8"/>
<ellipse cx="524.6" cy="1494.5" rx="7.3" ry="8"/>
<ellipse cx="527.0" cy="1496.9" rx="7.3" ry="8"/>
<ellipse cx="537.7" cy="1496.9" rx="7.3" ry="8"/>
<ellipse cx="537.7" cy="1501.7" rx="7.3" ry="8"/>
<ellipse cx="521.0" cy="1504.0" rx="7.3" ry="8"/>
<ellipse cx="553.2" cy="1495.7" rx="7.3" ry="8"/>
<ellipse cx="560.4" cy="1500.5" rx="7.3" ry="8"/>
<ellipse cx="584.2" cy="1500.5" rx="7.3" ry="8"/>
<ellipse cx="589.0" cy="1501.7" rx="7.3" ry="8"/>
<ellipse cx="596.2" cy="1496.9" rx="7.3" ry="8"/>
<ellipse cx="602.1" cy="1506.4" rx="7.3" ry="8"/>
<ellipse cx="606.9" cy="1496.9" rx="7.3" ry="8"/>
<ellipse cx="612.9" cy="1501.7" rx="7.3" ry="8"/>
<ellipse cx="617.6" cy="1500.5" rx="7.3" ry="8"/>
<ellipse cx="621.2" cy="1501.7" rx="7.3" ry="8"/>
<ellipse cx="626.0" cy="1498.1" rx="7.3" ry="8"/>
<ellipse cx="628.4" cy="1502.9" rx="7.3" ry="8"/>
<ellipse cx="637.9" cy="1504.0" rx="7.3" ry="8"/>
<ellipse cx="647.4" cy="1492.1" rx="7.3" ry="8"/>
<ellipse cx="654.6" cy="1499.3" rx="7.3" ry="8"/>
<ellipse cx="664.1" cy="1494.5" rx="7.3" ry="8"/>
<ellipse cx="678.5" cy="1496.9" rx="7.3" ry="8"/>
<ellipse cx="685.6" cy="1496.9" rx="7.3" ry="8"/>
<ellipse cx="692.8" cy="1494.5" rx="7.3" ry="8"/>
<ellipse cx="699.9" cy="1493.3" rx="7.3" ry="8"/>
<ellipse cx="711.9" cy="1499.3" rx="7.3" ry="8"/>
<ellipse cx="703.5" cy="1507.6" rx="7.3" ry="8"/>
<ellipse cx="709.5" cy="1507.6" rx="7.3" ry="8"/>
<ellipse cx="726.2" cy="1505.2" rx="7.3" ry="8"/>
<ellipse cx="730.9" cy="1494.5" rx="7.3" ry="8"/>
<ellipse cx="492.4" cy="1518.4" rx="7.3" ry="8"/>
<ellipse cx="497.2" cy="1520.7" rx="7.3" ry="8"/>
<ellipse cx="501.9" cy="1516.0" rx="7.3" ry="8"/>
<ellipse cx="506.7" cy="1517.2" rx="7.3" ry="8"/>
<ellipse cx="513.9" cy="1514.8" rx="7.3" ry="8"/>
<ellipse cx="522.2" cy="1512.4" rx="7.3" ry="8"/>
<ellipse cx="529.4" cy="1514.8" rx="7.3" ry="8"/>
<ellipse cx="532.9" cy="1516.0" rx="7.3" ry="8"/>
<ellipse cx="536.5" cy="1514.8" rx="7.3" ry="8"/>
<ellipse cx="547.3" cy="1510.0" rx="7.3" ry="8"/>
<ellipse cx="548.4" cy="1516.0" rx="7.3" ry="8"/>
<ellipse cx="561.6" cy="1513.6" rx="7.3" ry="8"/>
<ellipse cx="562.8" cy="1517.2" rx="7.3" ry="8"/>
<ellipse cx="577.1" cy="1507.6" rx="7.3" ry="8"/>
<ellipse cx="529.4" cy="1524.3" rx="7.3" ry="8"/>
<ellipse cx="537.7" cy="1523.1" rx="7.3" ry="8"/>
<ellipse cx="496.0" cy="1529.1" rx="7.3" ry="8"/>
<ellipse cx="500.7" cy="1527.9" rx="7.3" ry="8"/>
<ellipse cx="606.9" cy="1521.9" rx="7.3" ry="8"/>
<ellipse cx="615.2" cy="1518.4" rx="7.3" ry="8"/>
<ellipse cx="627.2" cy="1516.0" rx="7.3" ry="8"/>
<ellipse cx="654.6" cy="1512.4" rx="7.3" ry="8"/>
<ellipse cx="668.9" cy="1511.2" rx="7.3" ry="8"/>
<ellipse cx="661.8" cy="1521.9" rx="7.3" ry="8"/>
<ellipse cx="649.8" cy="1525.5" rx="7.3" ry="8"/>
<ellipse cx="661.8" cy="1531.5" rx="7.3" ry="8"/>
<ellipse cx="572.3" cy="1529.1" rx="7.3" ry="8"/>
<ellipse cx="492.4" cy="1542.2" rx="7.3" ry="8"/>
<ellipse cx="504.8" cy="1541.0" rx="7.3" ry="8"/>
<ellipse cx="536.5" cy="1537.4" rx="7.3" ry="8"/>
<ellipse cx="537.7" cy="1538.6" rx="7.3" ry="8"/>
<ellipse cx="550.8" cy="1536.2" rx="7.3" ry="8"/>
<ellipse cx="578.3" cy="1535.1" rx="7.3" ry="8"/>
<ellipse cx="581.8" cy="1535.1" rx="7.3" ry="8"/>
<ellipse cx="581.8" cy="1542.2" rx="7.3" ry="8"/>
<ellipse cx="590.2" cy="1543.4" rx="7.3" ry="8"/>
<ellipse cx="626.0" cy="1537.4" rx="7.3" ry="8"/>
<ellipse cx="633.1" cy="1538.6" rx="7.3" ry="8"/>
<ellipse cx="636.7" cy="1542.2" rx="7.3" ry="8"/>
<ellipse cx="616.4" cy="1547.0" rx="7.3" ry="8"/>
<ellipse cx="623.6" cy="1548.2" rx="7.3" ry="8"/>
<ellipse cx="628.4" cy="1547.0" rx="7.3" ry="8"/>
<ellipse cx="647.4" cy="1547.0" rx="7.3" ry="8"/>
<ellipse cx="649.8" cy="1547.0" rx="7.3" ry="8"/>
<ellipse cx="668.9" cy="1543.4" rx="7.3" ry="8"/>
<ellipse cx="673.7" cy="1542.2" rx="7.3" ry="8"/>
<ellipse cx="678.5" cy="1541.0" rx="7.3" ry="8"/>
<ellipse cx="709.5" cy="1535.1" rx="7.3" ry="8"/>
<ellipse cx="715.4" cy="1535.1" rx="7.3" ry="8"/>
<ellipse cx="568.7" cy="1550.6" rx="7.3" ry="8"/>
<ellipse cx="552.0" cy="1550.6" rx="7.3" ry="8"/>
<ellipse cx="598.5" cy="1551.8" rx="7.3" ry="8"/>
<ellipse cx="586.6" cy="1554.1" rx="7.3" ry="8"/>
<ellipse cx="511.5" cy="1561.3" rx="7.3" ry="8"/>
<ellipse cx="527.0" cy="1556.5" rx="7.3" ry="8"/>
<ellipse cx="552.0" cy="1562.5" rx="7.3" ry="8"/>
<ellipse cx="559.2" cy="1558.9" rx="7.3" ry="8"/>
<ellipse cx="561.6" cy="1560.1" rx="7.3" ry="8"/>
<ellipse cx="564.0" cy="1558.9" rx="7.3" ry="8"/>
<ellipse cx="559.2" cy="1567.3" rx="7.3" ry="8"/>
<ellipse cx="561.6" cy="1568.5" rx="7.3" ry="8"/>
<ellipse cx="574.7" cy="1564.9" rx="7.3" ry="8"/>
<ellipse cx="580.6" cy="1558.9" rx="7.3" ry="8"/>
<ellipse cx="590.2" cy="1556.5" rx="7.3" ry="8"/>
<ellipse cx="618.8" cy="1552.9" rx="7.3" ry="8"/>
<ellipse cx="627.2" cy="1551.8" rx="7.3" ry="8"/>
<ellipse cx="634.3" cy="1551.8" rx="7.3" ry="8"/>
<ellipse cx="723.8" cy="1558.9" rx="7.3" ry="8"/>
<ellipse cx="832.6" cy="1448.3" rx="7.3" ry="8"/>
<ellipse cx="737.6" cy="1476.5" rx="7.3" ry="8"/>
<ellipse cx="768.5" cy="1476.5" rx="7.3" ry="8"/>
<ellipse cx="748.2" cy="1486.2" rx="7.3" ry="8"/>
<ellipse cx="759.4" cy="1486.2" rx="7.3" ry="8"/>
<ellipse cx="748.2" cy="1492.9" rx="7.3" ry="8"/>
<ellipse cx="757.3" cy="1490.8" rx="7.3" ry="8"/>
<ellipse cx="748.2" cy="1509.0" rx="7.3" ry="8"/>
<ellipse cx="783.1" cy="1488.6" rx="7.3" ry="8"/>
<ellipse cx="792.2" cy="1488.6" rx="7.3" ry="8"/>
<ellipse cx="790.7" cy="1491.4" rx="7.3" ry="8"/>
<ellipse cx="790.7" cy="1497.7" rx="7.3" ry="8"/>
<ellipse cx="799.8" cy="1478.6" rx="7.3" ry="8"/>
<ellipse cx="810.4" cy="1490.1" rx="7.3" ry="8"/>
<ellipse cx="807.4" cy="1497.7" rx="7.3" ry="8"/>
<ellipse cx="823.5" cy="1484.7" rx="7.3" ry="8"/>
<ellipse cx="788.6" cy="1521.1" rx="7.3" ry="8"/>
<ellipse cx="825.6" cy="1517.2" rx="7.3" ry="8"/>
<ellipse cx="844.1" cy="1509.0" rx="7.3" ry="8"/>
<ellipse cx="870.2" cy="1472.5" rx="7.3" ry="8"/>
<ellipse cx="871.4" cy="1473.2" rx="7.3" ry="8"/>
<ellipse cx="888.1" cy="1470.4" rx="7.3" ry="8"/>
<ellipse cx="900.8" cy="1477.1" rx="7.3" ry="8"/>
<ellipse cx="919.6" cy="1468.6" rx="7.3" ry="8"/>
<ellipse cx="919.6" cy="1478.6" rx="7.3" ry="8"/>
<ellipse cx="873.2" cy="1495.3" rx="7.3" ry="8"/>
<ellipse cx="886.6" cy="1495.3" rx="7.3" ry="8"/>
<ellipse cx="870.2" cy="1506.8" rx="7.3" ry="8"/>
<ellipse cx="908.4" cy="1497.1" rx="7.3" ry="8"/>
<ellipse cx="963.6" cy="1464.4" rx="7.3" ry="8"/>
<ellipse cx="960.0" cy="1477.1" rx="7.3" ry="8"/>
<ellipse cx="980.3" cy="1466.5" rx="7.3" ry="8"/>
<ellipse cx="987.9" cy="1470.4" rx="7.3" ry="8"/>
<ellipse cx="960.0" cy="1498.9" rx="7.3" ry="8"/>
<ellipse cx="1007.9" cy="1495.3" rx="7.3" ry="8"/>
<ellipse cx="151.0" cy="1611.7" rx="7.3" ry="8"/>
<ellipse cx="178.4" cy="1623.7" rx="7.3" ry="8"/>
<ellipse cx="288.6" cy="1603.9" rx="7.3" ry="8"/>
<ellipse cx="299.8" cy="1607.4" rx="7.3" ry="8"/>
<ellipse cx="314.9" cy="1601.5" rx="7.3" ry="8"/>
<ellipse cx="274.1" cy="1615.8" rx="7.3" ry="8"/>
<ellipse cx="331.1" cy="1617.7" rx="7.3" ry="8"/>
<ellipse cx="338.7" cy="1619.8" rx="7.3" ry="8"/>
<ellipse cx="351.9" cy="1609.8" rx="7.3" ry="8"/>
<ellipse cx="344.7" cy="1638.0" rx="7.3" ry="8"/>
<ellipse cx="334.7" cy="1640.4" rx="7.3" ry="8"/>
<ellipse cx="324.4" cy="1644.9" rx="7.3" ry="8"/>
<ellipse cx="322.0" cy="1646.8" rx="7.3" ry="8"/>
<ellipse cx="314.4" cy="1649.9" rx="7.3" ry="8"/>
<ellipse cx="299.8" cy="1655.9" rx="7.3" ry="8"/>
<ellipse cx="289.1" cy="1660.4" rx="7.3" ry="8"/>
<ellipse cx="281.7" cy="1664.2" rx="7.3" ry="8"/>
<ellipse cx="270.3" cy="1668.3" rx="7.3" ry="8"/>
<ellipse cx="222.8" cy="1674.2" rx="7.3" ry="8"/>
<ellipse cx="307.5" cy="1714.5" rx="7.3" ry="8"/>
<ellipse cx="381.2" cy="1676.1" rx="7.3" ry="8"/>
<ellipse cx="407.0" cy="1664.0" rx="7.3" ry="8"/>
<ellipse cx="473.1" cy="1636.1" rx="7.3" ry="8"/>
<ellipse cx="486.4" cy="1631.8" rx="7.3" ry="8"/>
<ellipse cx="368.0" cy="1628.3" rx="7.3" ry="8"/>
<ellipse cx="375.3" cy="1624.5" rx="7.3" ry="8"/>
<ellipse cx="380.0" cy="1623.5" rx="7.3" ry="8"/>
<ellipse cx="389.6" cy="1619.7" rx="7.3" ry="8"/>
<ellipse cx="393.4" cy="1617.8" rx="7.3" ry="8"/>
<ellipse cx="396.3" cy="1616.8" rx="7.3" ry="8"/>
<ellipse cx="399.1" cy="1615.9" rx="7.3" ry="8"/>
<ellipse cx="402.0" cy="1614.9" rx="7.3" ry="8"/>
<ellipse cx="404.8" cy="1614.0" rx="7.3" ry="8"/>
<ellipse cx="414.4" cy="1612.1" rx="7.3" ry="8"/>
<ellipse cx="425.8" cy="1605.4" rx="7.3" ry="8"/>
<ellipse cx="426.8" cy="1603.5" rx="7.3" ry="8"/>
<ellipse cx="435.4" cy="1603.5" rx="7.3" ry="8"/>
<ellipse cx="438.2" cy="1602.1" rx="7.3" ry="8"/>
<ellipse cx="440.2" cy="1601.6" rx="7.3" ry="8"/>
<ellipse cx="451.2" cy="1596.8" rx="7.3" ry="8"/>
<ellipse cx="467.8" cy="1593.0" rx="7.3" ry="8"/>
<ellipse cx="470.7" cy="1592.0" rx="7.3" ry="8"/>
<ellipse cx="472.6" cy="1591.5" rx="7.3" ry="8"/>
<ellipse cx="474.5" cy="1591.1" rx="7.3" ry="8"/>
<ellipse cx="476.4" cy="1590.7" rx="7.3" ry="8"/>
<ellipse cx="493.6" cy="1585.7" rx="7.3" ry="8"/>
<ellipse cx="510.4" cy="1581.1" rx="7.3" ry="8"/>
<ellipse cx="487.9" cy="1576.8" rx="7.3" ry="8"/>
<ellipse cx="537.9" cy="1573.5" rx="7.3" ry="8"/>
<ellipse cx="519.4" cy="1569.7" rx="7.3" ry="8"/>
<ellipse cx="436.7" cy="1566.6" rx="7.3" ry="8"/>
<ellipse cx="438.2" cy="1579.6" rx="7.3" ry="8"/>
<ellipse cx="429.1" cy="1584.8" rx="7.3" ry="8"/>
<ellipse cx="450.6" cy="1575.8" rx="7.3" ry="8"/>
<ellipse cx="453.5" cy="1580.6" rx="7.3" ry="8"/>
<ellipse cx="463.1" cy="1576.8" rx="7.3" ry="8"/>
<ellipse cx="465.9" cy="1583.4" rx="7.3" ry="8"/>
<ellipse cx="390.5" cy="1587.3" rx="7.3" ry="8"/>
<ellipse cx="381.0" cy="1594.9" rx="7.3" ry="8"/>
<ellipse cx="399.1" cy="1594.9" rx="7.3" ry="8"/>
<ellipse cx="389.6" cy="1605.4" rx="7.3" ry="8"/>
<ellipse cx="379.1" cy="1611.1" rx="7.3" ry="8"/>
<ellipse cx="379.1" cy="1565.3" rx="7.3" ry="8"/>
<ellipse cx="378.1" cy="1570.1" rx="7.3" ry="8"/>
</g>
<polyline points="150.8,1426.0 176.8,1400.0 190.1,1387.2 223.5,1362.2 244.6,1356.5 255.3,1377.2 267.2,1402.7 280.3,1449.2 288.6,1470.6 300.6,1494.5 313.7,1490.9 325.6,1485.0 335.2,1471.8 347.1,1445.6 354.2,1435.3 360.7,1432.0 365.0,1445.6 371.5,1469.2 378.4,1496.7 383.6,1511.3 390.4,1507.0 395.6,1491.5 401.6,1462.3 407.6,1450.6 413.6,1452.0 419.6,1460.6 426.5,1476.1 431.6,1482.1 437.7,1485.0 447.1,1478.6 455.7,1465.8 462.6,1461.5 469.4,1464.0 474.6,1462.3 480.6,1452.9 487.0,1434.0 493.6,1425.3 500.7,1431.3 506.7,1442.0 513.9,1456.3 522.2,1458.2 530.6,1448.0 538.9,1440.1 558.0,1439.6 568.7,1451.6 578.3,1461.1 587.8,1456.3 597.3,1450.4 609.3,1442.0 614.0,1442.0 622.4,1451.1 633.1,1449.9 642.7,1453.5 654.6,1451.6 666.5,1443.2 676.1,1440.8 685.6,1439.6 696.3,1435.6 707.1,1434.9 719.0,1442.0 740.0,1447.5 758.8,1450.4 810.4,1418.8 857.4,1417.3 909.0,1421.0 1008.2,1439.5" fill="none" stroke="#111" stroke-width="1.3" stroke-linejoin="round"/>
<path d="M132.5,1112.3H1043.5V1785.2" fill="none" stroke="#6a6a6a" stroke-width="1.3"/>
<path d="M132.4,1112.0V1785.4H1043.5" fill="none" stroke="#333" stroke-width="1.5" stroke-linecap="square"/>
<path d="M132.5,1132.3h-14.2M132.5,1290.5h-14.2M132.5,1448.8h-14.2M132.5,1607.0h-14.2M132.5,1765.2h-14.2" stroke="#777" stroke-width="1.1" fill="none"/>
<path d="M213.1,1785.7v14.5M415.9,1785.7v14.5M618.7,1785.7v14.5M821.4,1785.7v14.5M1024.2,1785.7v14.5" stroke="#a6a6a6" stroke-width="1.5" fill="none"/>
<text x="213.0" y="1820.2" text-anchor="middle" style="font-size:18.8px;fill:#4d4d4d;stroke:#4d4d4d;stroke-width:0.25">100</text>
<text x="415.8" y="1820.2" text-anchor="middle" style="font-size:18.8px;fill:#4d4d4d;stroke:#4d4d4d;stroke-width:0.25">200</text>
<text x="618.6" y="1820.2" text-anchor="middle" style="font-size:18.8px;fill:#4d4d4d;stroke:#4d4d4d;stroke-width:0.25">300</text>
<text x="821.3" y="1820.2" text-anchor="middle" style="font-size:18.8px;fill:#4d4d4d;stroke:#4d4d4d;stroke-width:0.25">400</text>
<text x="1024.1" y="1820.2" text-anchor="middle" style="font-size:18.8px;fill:#4d4d4d;stroke:#4d4d4d;stroke-width:0.25">500</text>
<text x="113.4" y="1139.8" text-anchor="end" style="font-size:18.8px;fill:#4d4d4d;stroke:#4d4d4d;stroke-width:0.25">1.0</text>
<text x="113.4" y="1298.0" text-anchor="end" style="font-size:18.8px;fill:#4d4d4d;stroke:#4d4d4d;stroke-width:0.25">0.5</text>
<text x="113.4" y="1456.2" text-anchor="end" style="font-size:18.8px;fill:#4d4d4d;stroke:#4d4d4d;stroke-width:0.25">0.0</text>
<text x="113.4" y="1614.4" text-anchor="end" style="font-size:18.8px;fill:#4d4d4d;stroke:#4d4d4d;stroke-width:0.25">-0.5</text>
<text x="113.4" y="1772.6" text-anchor="end" style="font-size:18.8px;fill:#4d4d4d;stroke:#4d4d4d;stroke-width:0.25">-1.0</text>
<text x="0.6" y="1059.8" style="font-size:19.4px;font-weight:bold;fill:#222;stroke:#222;stroke-width:0.3">B</text>
<text x="63.5" y="1065.7" textLength="161" lengthAdjust="spacingAndGlyphs" style="font-size:19.2px;fill:#111;stroke:#111;stroke-width:0.2">JAVELIN Renal 101</text>
<text x="531" y="1851.5" textLength="178.5" lengthAdjust="spacingAndGlyphs" style="font-size:19.0px;fill:#111;stroke:#111;stroke-width:0.2">sMAdCAM-1 (ng/mL)</text>
<text transform="translate(63.4,1532.4) rotate(-90)" textLength="168" lengthAdjust="spacingAndGlyphs" style="font-size:19.1px;fill:#111;stroke:#111;stroke-width:0.2">Martingale Residual</text>
</svg>
</body></html>
